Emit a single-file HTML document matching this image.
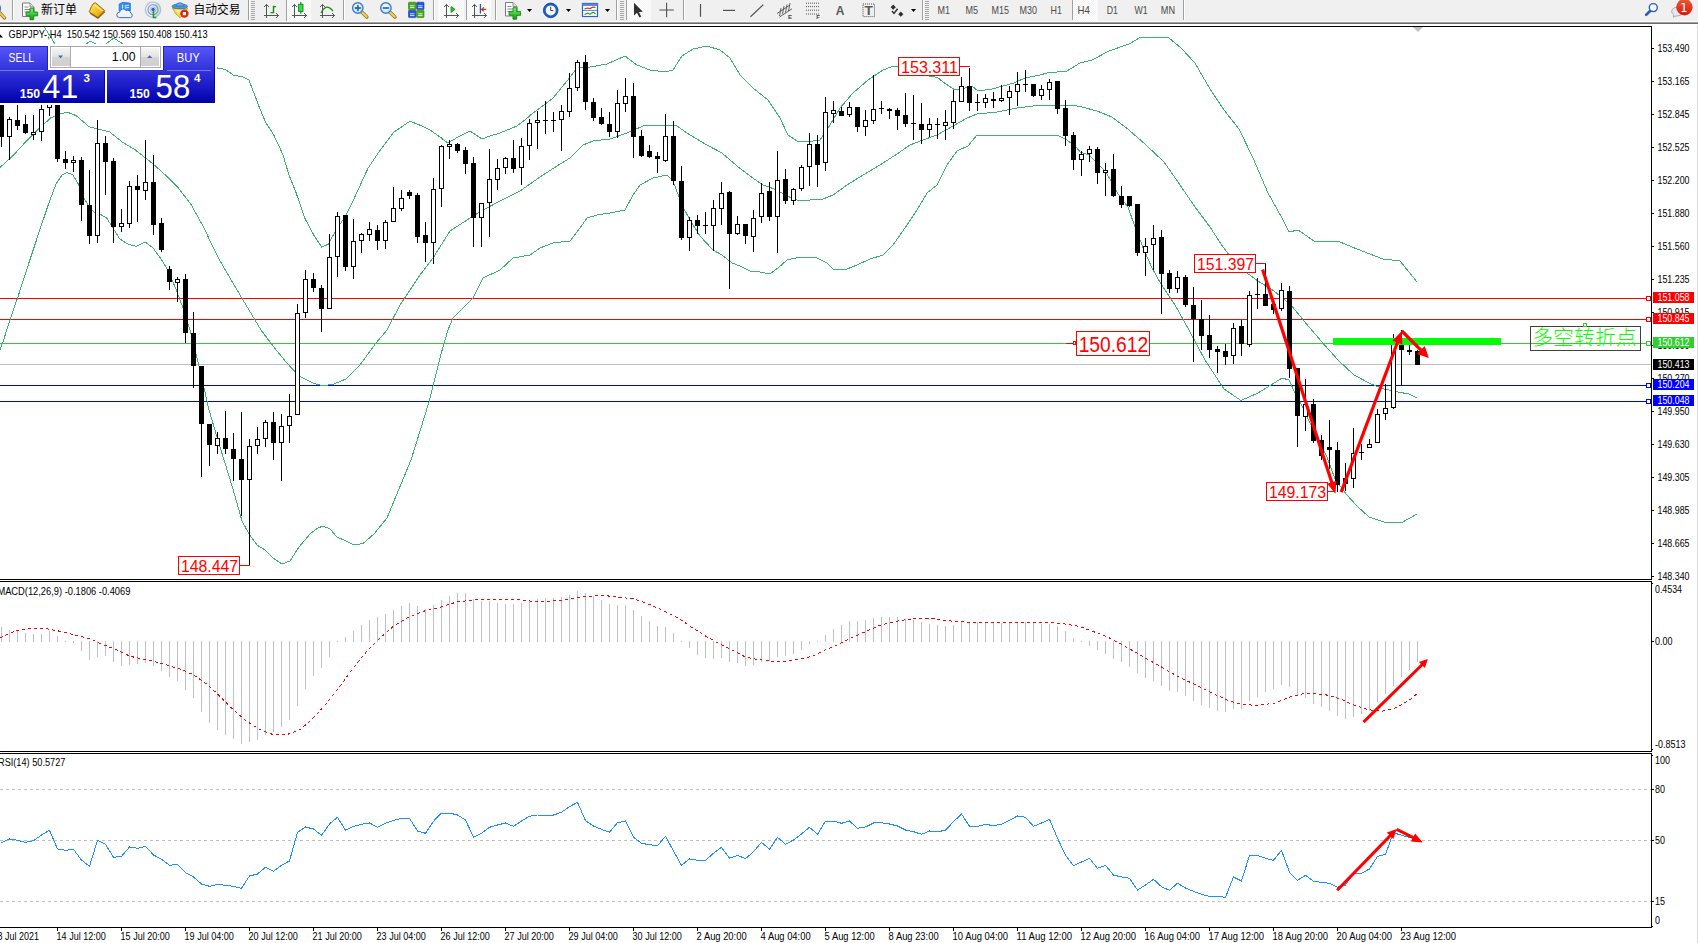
<!DOCTYPE html>
<html lang="zh"><head><meta charset="utf-8"><title>GBPJPY H4</title>
<style>
html,body{margin:0;padding:0;background:#fff}
body{width:1698px;height:943px;overflow:hidden;position:relative;font-family:"Liberation Sans","Noto Sans CJK SC",sans-serif;}
</style></head>
<body>
<svg width="1698" height="943" viewBox="0 0 1698 943" style="position:absolute;left:0;top:0" font-family='"Liberation Sans","Noto Sans CJK SC",sans-serif'>
<rect x="0" y="24" width="1698" height="919" fill="#fff"/>
<defs><clipPath id="cm"><rect x="0" y="27" width="1651" height="552"/></clipPath><clipPath id="c2"><rect x="0" y="582" width="1651" height="169"/></clipPath><clipPath id="c3"><rect x="0" y="754" width="1651" height="173"/></clipPath></defs>
<g clip-path="url(#cm)">
<g shape-rendering="crispEdges">
<rect x="0" y="298" width="1651" height="1" fill="#FF0000"/>
<rect x="0" y="319" width="1651" height="1" fill="#FF0000"/>
<rect x="0" y="343" width="1651" height="1" fill="#32CD32"/>
<rect x="0" y="364" width="1651" height="1" fill="#C0C0C0"/>
<rect x="0" y="385" width="1651" height="1" fill="#0000FF"/>
<rect x="0" y="401" width="1651" height="1" fill="#0000FF"/>
</g>
<polyline points="44.0,26.5 55.0,44.0 62.0,50.0 80.0,48.0 86.0,44.0 90.0,41.2 96.0,44.0 101.0,47.0 106.0,44.0 113.7,38.0 123.0,44.0 130.0,50.0 217.5,68.0 225.7,69.6 233.8,75.5 242.0,76.6 249.0,80.1 253.7,92.5 259.5,107.7 265.3,121.7 273.5,134.5 282.8,154.3 288.7,174.2 295.7,191.7 305.0,218.5 314.3,236.0 321.8,247.2 328.3,244.2 335.3,231.3 344.7,217.3 354.0,198.7 368.0,168.3 379.7,150.8 393.7,132.2 410.0,121.2 420.0,125.2 430.0,130.0 440.0,137.0 448.0,143.0 458.0,137.0 470.0,131.0 482.0,139.0 490.0,136.0 500.0,133.0 517.0,126.0 525.0,120.0 533.0,113.0 540.0,108.0 553.0,98.0 567.0,81.0 577.0,68.0 590.0,67.0 607.0,64.0 625.0,56.0 637.0,65.0 650.0,70.0 665.0,72.0 673.0,70.0 682.0,56.0 693.0,49.0 707.0,46.0 720.0,50.0 730.0,58.0 740.0,75.0 753.0,88.0 768.0,100.0 780.0,118.0 788.0,135.0 797.0,141.0 807.0,142.0 820.0,140.0 830.0,125.0 840.0,108.0 853.0,93.0 868.0,80.0 883.0,70.0 891.0,67.0 898.0,66.4 910.0,67.0 929.0,76.0 937.7,77.5 943.0,82.0 949.0,86.0 955.0,90.0 965.0,88.0 972.0,86.0 978.0,91.0 992.0,89.0 1003.0,86.0 1014.0,83.0 1025.0,78.0 1040.0,75.0 1047.0,73.0 1067.0,71.0 1080.0,63.0 1092.0,60.0 1109.0,51.0 1129.0,44.0 1141.0,37.0 1155.0,37.0 1169.0,38.0 1181.0,48.0 1195.0,63.0 1210.0,89.0 1224.0,110.0 1239.0,129.0 1253.0,158.0 1268.0,193.0 1282.0,218.0 1289.0,232.0 1298.0,230.0 1314.0,241.0 1340.0,242.0 1357.0,249.0 1383.0,259.0 1400.0,261.0 1409.0,272.0 1417.0,282.0" fill="none" stroke="#3CB371" stroke-width="1" stroke-linejoin="round" shape-rendering="crispEdges"/>
<polyline points="0.0,167.5 12.7,156.0 25.5,142.0 38.2,129.3 50.9,117.8 61.1,113.2 68.8,112.7 76.4,115.8 89.1,126.7 101.9,130.0 109.5,131.8 122.2,142.0 135.0,149.7 152.8,163.7 165.5,175.1 178.3,187.9 191.0,204.4 203.7,227.3 213.9,249.0 220.0,260.9 240.0,295.0 261.0,330.0 273.0,346.0 286.0,362.0 299.0,376.0 313.0,383.0 323.0,386.0 334.0,384.0 346.0,379.0 360.0,365.0 376.0,343.0 387.0,330.0 400.0,305.0 420.0,275.0 433.0,258.0 450.0,231.0 467.0,220.0 483.0,210.0 500.0,201.0 520.0,191.0 540.0,177.0 557.0,166.0 570.0,158.0 583.0,145.0 593.0,141.0 610.0,139.0 627.0,133.0 643.0,126.0 663.0,125.0 677.0,126.0 690.0,135.0 707.0,145.0 722.0,153.0 737.0,166.0 750.0,176.0 763.0,185.0 777.0,190.0 787.0,196.0 797.0,200.0 810.0,200.0 823.0,199.0 833.0,195.0 847.0,185.0 863.0,175.0 880.0,165.0 897.0,154.0 910.0,145.0 923.0,140.0 937.0,135.0 953.0,126.0 967.0,118.0 977.0,114.0 997.0,112.0 1017.0,108.0 1033.0,106.0 1053.0,105.0 1070.0,105.0 1080.0,106.5 1097.0,111.0 1112.0,117.0 1129.0,130.0 1146.0,145.0 1164.0,162.0 1178.0,182.0 1195.0,207.0 1210.0,227.0 1221.0,244.0 1228.4,254.0 1246.9,273.0 1258.0,281.0 1274.0,291.0 1291.0,305.0 1304.0,321.0 1321.0,341.0 1338.0,360.0 1354.0,375.0 1371.0,384.0 1384.0,389.0 1398.0,392.0 1409.0,394.0 1417.0,398.0" fill="none" stroke="#3CB371" stroke-width="1" stroke-linejoin="round" shape-rendering="crispEdges"/>
<polyline points="0.0,350.0 3.8,339.4 10.2,319.0 17.8,297.3 25.5,273.2 33.1,250.2 40.7,227.3 48.4,204.4 56.0,184.0 62.4,174.6 66.7,172.6 72.6,174.4 77.7,182.8 84.0,198.0 89.1,207.0 95.5,213.3 101.9,215.1 107.0,218.4 113.3,228.6 119.7,238.8 127.3,243.9 136.2,246.4 145.2,242.1 152.8,247.7 160.4,257.9 168.1,270.6 175.7,288.4 183.3,308.8 189.7,329.2 200.0,370.0 209.0,410.0 220.0,447.0 233.0,489.0 242.0,521.0 249.0,534.0 257.0,545.0 265.0,550.0 273.0,558.0 282.0,564.0 290.0,561.0 299.0,547.0 310.0,534.0 318.0,528.0 323.0,526.0 330.0,529.0 337.0,537.0 346.0,541.0 354.0,545.0 363.0,543.5 374.0,534.0 387.0,518.0 400.0,486.5 411.0,460.0 421.0,428.0 429.0,402.0 435.0,378.0 441.0,354.0 448.0,330.0 453.0,318.0 473.0,298.0 483.0,278.0 500.0,270.0 513.0,258.0 530.0,255.0 540.0,248.0 553.0,243.0 570.0,241.0 580.0,228.0 587.0,218.0 597.0,215.0 610.0,213.0 625.0,210.0 633.0,195.0 640.0,185.0 653.0,178.0 667.0,175.0 673.0,181.0 682.0,205.0 690.0,220.0 700.0,236.0 713.0,250.0 722.0,255.0 732.0,263.0 740.0,266.0 750.0,271.0 760.0,272.0 770.0,274.0 778.0,268.0 787.0,260.0 800.0,257.0 817.0,258.0 827.0,263.0 833.0,269.0 847.0,269.0 857.0,265.0 870.0,259.0 883.0,255.0 893.0,245.0 907.0,225.0 917.0,210.0 927.0,193.0 937.0,185.0 947.0,165.0 957.0,151.0 968.0,146.0 977.0,135.0 1007.0,136.0 1033.0,135.0 1057.0,135.0 1067.0,140.0 1077.0,148.0 1080.0,152.0 1089.0,155.0 1106.0,172.0 1118.0,194.0 1128.0,207.0 1135.0,227.0 1144.0,250.0 1152.0,268.0 1161.0,284.0 1175.0,305.0 1189.0,330.0 1205.0,360.0 1224.0,389.0 1241.0,400.5 1258.0,393.0 1271.0,385.0 1282.0,378.0 1289.0,380.0 1295.0,393.0 1304.0,410.0 1315.0,434.0 1327.0,457.0 1335.0,479.0 1346.0,494.0 1357.0,506.0 1369.0,517.0 1384.0,522.0 1401.0,523.0 1417.0,514.0" fill="none" stroke="#3CB371" stroke-width="1" stroke-linejoin="round" shape-rendering="crispEdges"/>
<g shape-rendering="crispEdges">
<rect x="1" y="100" width="1" height="47" fill="#000"/>
<rect x="-1" y="100" width="5" height="37" fill="#000"/>
<rect x="9" y="117" width="1" height="43" fill="#000"/>
<rect x="7" y="119" width="5" height="18" fill="#000"/>
<rect x="8" y="120" width="3" height="16" fill="#fff"/>
<rect x="17" y="100" width="1" height="30" fill="#000"/>
<rect x="15" y="120" width="5" height="6" fill="#000"/>
<rect x="25" y="115" width="1" height="19" fill="#000"/>
<rect x="23" y="124" width="5" height="9" fill="#000"/>
<rect x="33" y="115" width="1" height="25" fill="#000"/>
<rect x="31" y="132" width="5" height="3" fill="#000"/>
<rect x="32" y="133" width="3" height="1" fill="#fff"/>
<rect x="41" y="100" width="1" height="41" fill="#000"/>
<rect x="39" y="109" width="5" height="23" fill="#000"/>
<rect x="40" y="110" width="3" height="21" fill="#fff"/>
<rect x="49" y="100" width="1" height="16" fill="#000"/>
<rect x="47" y="100" width="5" height="8" fill="#000"/>
<rect x="48" y="101" width="3" height="6" fill="#fff"/>
<rect x="57" y="100" width="1" height="62" fill="#000"/>
<rect x="55" y="100" width="5" height="59" fill="#000"/>
<rect x="65" y="151" width="1" height="18" fill="#000"/>
<rect x="63" y="159" width="5" height="4" fill="#000"/>
<rect x="73" y="156" width="1" height="16" fill="#000"/>
<rect x="71" y="160" width="5" height="3" fill="#000"/>
<rect x="72" y="161" width="3" height="1" fill="#fff"/>
<rect x="81" y="157" width="1" height="64" fill="#000"/>
<rect x="79" y="160" width="5" height="45" fill="#000"/>
<rect x="89" y="170" width="1" height="74" fill="#000"/>
<rect x="87" y="205" width="5" height="31" fill="#000"/>
<rect x="97" y="120" width="1" height="123" fill="#000"/>
<rect x="95" y="143" width="5" height="93" fill="#000"/>
<rect x="96" y="144" width="3" height="91" fill="#fff"/>
<rect x="105" y="136" width="1" height="59" fill="#000"/>
<rect x="103" y="143" width="5" height="19" fill="#000"/>
<rect x="113" y="158" width="1" height="85" fill="#000"/>
<rect x="111" y="161" width="5" height="66" fill="#000"/>
<rect x="121" y="209" width="1" height="23" fill="#000"/>
<rect x="119" y="223" width="5" height="4" fill="#000"/>
<rect x="120" y="224" width="3" height="2" fill="#fff"/>
<rect x="129" y="181" width="1" height="47" fill="#000"/>
<rect x="127" y="186" width="5" height="38" fill="#000"/>
<rect x="128" y="187" width="3" height="36" fill="#fff"/>
<rect x="137" y="175" width="1" height="47" fill="#000"/>
<rect x="135" y="186" width="5" height="4" fill="#000"/>
<rect x="145" y="140" width="1" height="60" fill="#000"/>
<rect x="143" y="182" width="5" height="9" fill="#000"/>
<rect x="144" y="183" width="3" height="7" fill="#fff"/>
<rect x="153" y="155" width="1" height="80" fill="#000"/>
<rect x="151" y="182" width="5" height="43" fill="#000"/>
<rect x="161" y="218" width="1" height="34" fill="#000"/>
<rect x="159" y="223" width="5" height="27" fill="#000"/>
<rect x="169" y="266" width="1" height="24" fill="#000"/>
<rect x="167" y="269" width="5" height="13" fill="#000"/>
<rect x="177" y="277" width="1" height="25" fill="#000"/>
<rect x="175" y="279" width="5" height="4" fill="#000"/>
<rect x="176" y="280" width="3" height="2" fill="#fff"/>
<rect x="185" y="274" width="1" height="69" fill="#000"/>
<rect x="183" y="279" width="5" height="54" fill="#000"/>
<rect x="193" y="312" width="1" height="76" fill="#000"/>
<rect x="191" y="333" width="5" height="33" fill="#000"/>
<rect x="201" y="366" width="1" height="111" fill="#000"/>
<rect x="199" y="366" width="5" height="58" fill="#000"/>
<rect x="209" y="424" width="1" height="42" fill="#000"/>
<rect x="207" y="424" width="5" height="21" fill="#000"/>
<rect x="217" y="432" width="1" height="22" fill="#000"/>
<rect x="215" y="438" width="5" height="8" fill="#000"/>
<rect x="216" y="439" width="3" height="6" fill="#fff"/>
<rect x="225" y="411" width="1" height="43" fill="#000"/>
<rect x="223" y="438" width="5" height="11" fill="#000"/>
<rect x="233" y="433" width="1" height="48" fill="#000"/>
<rect x="231" y="449" width="5" height="10" fill="#000"/>
<rect x="241" y="412" width="1" height="104" fill="#000"/>
<rect x="239" y="459" width="5" height="21" fill="#000"/>
<rect x="249" y="439" width="1" height="127" fill="#000"/>
<rect x="247" y="446" width="5" height="34" fill="#000"/>
<rect x="248" y="447" width="3" height="32" fill="#fff"/>
<rect x="257" y="427" width="1" height="27" fill="#000"/>
<rect x="255" y="439" width="5" height="7" fill="#000"/>
<rect x="256" y="440" width="3" height="5" fill="#fff"/>
<rect x="265" y="420" width="1" height="27" fill="#000"/>
<rect x="263" y="422" width="5" height="17" fill="#000"/>
<rect x="264" y="423" width="3" height="15" fill="#fff"/>
<rect x="273" y="412" width="1" height="48" fill="#000"/>
<rect x="271" y="422" width="5" height="21" fill="#000"/>
<rect x="281" y="414" width="1" height="67" fill="#000"/>
<rect x="279" y="426" width="5" height="17" fill="#000"/>
<rect x="280" y="427" width="3" height="15" fill="#fff"/>
<rect x="289" y="394" width="1" height="49" fill="#000"/>
<rect x="287" y="416" width="5" height="10" fill="#000"/>
<rect x="288" y="417" width="3" height="8" fill="#fff"/>
<rect x="297" y="304" width="1" height="111" fill="#000"/>
<rect x="295" y="313" width="5" height="102" fill="#000"/>
<rect x="296" y="314" width="3" height="100" fill="#fff"/>
<rect x="305" y="270" width="1" height="48" fill="#000"/>
<rect x="303" y="279" width="5" height="34" fill="#000"/>
<rect x="304" y="280" width="3" height="32" fill="#fff"/>
<rect x="313" y="273" width="1" height="19" fill="#000"/>
<rect x="311" y="279" width="5" height="9" fill="#000"/>
<rect x="321" y="285" width="1" height="47" fill="#000"/>
<rect x="319" y="288" width="5" height="21" fill="#000"/>
<rect x="329" y="234" width="1" height="75" fill="#000"/>
<rect x="327" y="257" width="5" height="52" fill="#000"/>
<rect x="328" y="258" width="3" height="50" fill="#fff"/>
<rect x="337" y="212" width="1" height="65" fill="#000"/>
<rect x="335" y="216" width="5" height="41" fill="#000"/>
<rect x="336" y="217" width="3" height="39" fill="#fff"/>
<rect x="345" y="215" width="1" height="56" fill="#000"/>
<rect x="343" y="215" width="5" height="52" fill="#000"/>
<rect x="353" y="219" width="1" height="60" fill="#000"/>
<rect x="351" y="241" width="5" height="26" fill="#000"/>
<rect x="352" y="242" width="3" height="24" fill="#fff"/>
<rect x="361" y="233" width="1" height="20" fill="#000"/>
<rect x="359" y="234" width="5" height="7" fill="#000"/>
<rect x="360" y="235" width="3" height="5" fill="#fff"/>
<rect x="369" y="222" width="1" height="19" fill="#000"/>
<rect x="367" y="229" width="5" height="6" fill="#000"/>
<rect x="368" y="230" width="3" height="4" fill="#fff"/>
<rect x="377" y="225" width="1" height="25" fill="#000"/>
<rect x="375" y="230" width="5" height="11" fill="#000"/>
<rect x="385" y="220" width="1" height="29" fill="#000"/>
<rect x="383" y="222" width="5" height="19" fill="#000"/>
<rect x="384" y="223" width="3" height="17" fill="#fff"/>
<rect x="393" y="187" width="1" height="35" fill="#000"/>
<rect x="391" y="208" width="5" height="14" fill="#000"/>
<rect x="392" y="209" width="3" height="12" fill="#fff"/>
<rect x="401" y="190" width="1" height="21" fill="#000"/>
<rect x="399" y="198" width="5" height="11" fill="#000"/>
<rect x="400" y="199" width="3" height="9" fill="#fff"/>
<rect x="409" y="190" width="1" height="9" fill="#000"/>
<rect x="407" y="192" width="5" height="4" fill="#000"/>
<rect x="417" y="193" width="1" height="50" fill="#000"/>
<rect x="415" y="195" width="5" height="42" fill="#000"/>
<rect x="425" y="222" width="1" height="40" fill="#000"/>
<rect x="423" y="235" width="5" height="8" fill="#000"/>
<rect x="433" y="178" width="1" height="86" fill="#000"/>
<rect x="431" y="189" width="5" height="54" fill="#000"/>
<rect x="432" y="190" width="3" height="52" fill="#fff"/>
<rect x="441" y="145" width="1" height="62" fill="#000"/>
<rect x="439" y="146" width="5" height="43" fill="#000"/>
<rect x="440" y="147" width="3" height="41" fill="#fff"/>
<rect x="449" y="140" width="1" height="19" fill="#000"/>
<rect x="447" y="144" width="5" height="3" fill="#000"/>
<rect x="448" y="145" width="3" height="1" fill="#fff"/>
<rect x="457" y="143" width="1" height="10" fill="#000"/>
<rect x="455" y="144" width="5" height="7" fill="#000"/>
<rect x="465" y="147" width="1" height="27" fill="#000"/>
<rect x="463" y="150" width="5" height="14" fill="#000"/>
<rect x="473" y="157" width="1" height="90" fill="#000"/>
<rect x="471" y="163" width="5" height="55" fill="#000"/>
<rect x="481" y="203" width="1" height="44" fill="#000"/>
<rect x="479" y="203" width="5" height="15" fill="#000"/>
<rect x="480" y="204" width="3" height="13" fill="#fff"/>
<rect x="489" y="149" width="1" height="88" fill="#000"/>
<rect x="487" y="179" width="5" height="24" fill="#000"/>
<rect x="488" y="180" width="3" height="22" fill="#fff"/>
<rect x="497" y="159" width="1" height="31" fill="#000"/>
<rect x="495" y="168" width="5" height="12" fill="#000"/>
<rect x="496" y="169" width="3" height="10" fill="#fff"/>
<rect x="505" y="157" width="1" height="17" fill="#000"/>
<rect x="503" y="158" width="5" height="10" fill="#000"/>
<rect x="504" y="159" width="3" height="8" fill="#fff"/>
<rect x="513" y="140" width="1" height="33" fill="#000"/>
<rect x="511" y="158" width="5" height="11" fill="#000"/>
<rect x="521" y="138" width="1" height="47" fill="#000"/>
<rect x="519" y="146" width="5" height="22" fill="#000"/>
<rect x="520" y="147" width="3" height="20" fill="#fff"/>
<rect x="529" y="119" width="1" height="41" fill="#000"/>
<rect x="527" y="123" width="5" height="23" fill="#000"/>
<rect x="528" y="124" width="3" height="21" fill="#fff"/>
<rect x="537" y="111" width="1" height="38" fill="#000"/>
<rect x="535" y="120" width="5" height="3" fill="#000"/>
<rect x="536" y="121" width="3" height="1" fill="#fff"/>
<rect x="545" y="101" width="1" height="33" fill="#000"/>
<rect x="543" y="120" width="5" height="1" fill="#000"/>
<rect x="553" y="112" width="1" height="20" fill="#000"/>
<rect x="551" y="120" width="5" height="1" fill="#000"/>
<rect x="561" y="105" width="1" height="46" fill="#000"/>
<rect x="559" y="111" width="5" height="9" fill="#000"/>
<rect x="560" y="112" width="3" height="7" fill="#fff"/>
<rect x="569" y="73" width="1" height="44" fill="#000"/>
<rect x="567" y="88" width="5" height="24" fill="#000"/>
<rect x="568" y="89" width="3" height="22" fill="#fff"/>
<rect x="577" y="60" width="1" height="31" fill="#000"/>
<rect x="575" y="62" width="5" height="26" fill="#000"/>
<rect x="576" y="63" width="3" height="24" fill="#fff"/>
<rect x="585" y="55" width="1" height="55" fill="#000"/>
<rect x="583" y="62" width="5" height="40" fill="#000"/>
<rect x="593" y="98" width="1" height="23" fill="#000"/>
<rect x="591" y="102" width="5" height="16" fill="#000"/>
<rect x="601" y="108" width="1" height="17" fill="#000"/>
<rect x="599" y="117" width="5" height="7" fill="#000"/>
<rect x="609" y="112" width="1" height="25" fill="#000"/>
<rect x="607" y="124" width="5" height="8" fill="#000"/>
<rect x="617" y="90" width="1" height="48" fill="#000"/>
<rect x="615" y="103" width="5" height="29" fill="#000"/>
<rect x="616" y="104" width="3" height="27" fill="#fff"/>
<rect x="625" y="78" width="1" height="34" fill="#000"/>
<rect x="623" y="96" width="5" height="8" fill="#000"/>
<rect x="624" y="97" width="3" height="6" fill="#fff"/>
<rect x="633" y="83" width="1" height="75" fill="#000"/>
<rect x="631" y="96" width="5" height="41" fill="#000"/>
<rect x="641" y="130" width="1" height="27" fill="#000"/>
<rect x="639" y="136" width="5" height="20" fill="#000"/>
<rect x="649" y="145" width="1" height="13" fill="#000"/>
<rect x="647" y="151" width="5" height="6" fill="#000"/>
<rect x="657" y="152" width="1" height="21" fill="#000"/>
<rect x="655" y="156" width="5" height="3" fill="#000"/>
<rect x="665" y="114" width="1" height="48" fill="#000"/>
<rect x="663" y="136" width="5" height="25" fill="#000"/>
<rect x="664" y="137" width="3" height="23" fill="#fff"/>
<rect x="673" y="121" width="1" height="64" fill="#000"/>
<rect x="671" y="136" width="5" height="45" fill="#000"/>
<rect x="681" y="166" width="1" height="74" fill="#000"/>
<rect x="679" y="181" width="5" height="57" fill="#000"/>
<rect x="689" y="217" width="1" height="34" fill="#000"/>
<rect x="687" y="220" width="5" height="18" fill="#000"/>
<rect x="688" y="221" width="3" height="16" fill="#fff"/>
<rect x="697" y="215" width="1" height="19" fill="#000"/>
<rect x="695" y="220" width="5" height="6" fill="#000"/>
<rect x="705" y="212" width="1" height="22" fill="#000"/>
<rect x="703" y="225" width="5" height="1" fill="#000"/>
<rect x="713" y="200" width="1" height="51" fill="#000"/>
<rect x="711" y="208" width="5" height="18" fill="#000"/>
<rect x="712" y="209" width="3" height="16" fill="#fff"/>
<rect x="721" y="182" width="1" height="43" fill="#000"/>
<rect x="719" y="193" width="5" height="16" fill="#000"/>
<rect x="720" y="194" width="3" height="14" fill="#fff"/>
<rect x="729" y="191" width="1" height="98" fill="#000"/>
<rect x="727" y="192" width="5" height="42" fill="#000"/>
<rect x="737" y="216" width="1" height="19" fill="#000"/>
<rect x="735" y="224" width="5" height="10" fill="#000"/>
<rect x="736" y="225" width="3" height="8" fill="#fff"/>
<rect x="745" y="224" width="1" height="20" fill="#000"/>
<rect x="743" y="224" width="5" height="12" fill="#000"/>
<rect x="753" y="210" width="1" height="42" fill="#000"/>
<rect x="751" y="218" width="5" height="19" fill="#000"/>
<rect x="752" y="219" width="3" height="17" fill="#fff"/>
<rect x="761" y="183" width="1" height="40" fill="#000"/>
<rect x="759" y="193" width="5" height="24" fill="#000"/>
<rect x="760" y="194" width="3" height="22" fill="#fff"/>
<rect x="769" y="182" width="1" height="39" fill="#000"/>
<rect x="767" y="191" width="5" height="26" fill="#000"/>
<rect x="777" y="151" width="1" height="102" fill="#000"/>
<rect x="775" y="180" width="5" height="37" fill="#000"/>
<rect x="776" y="181" width="3" height="35" fill="#fff"/>
<rect x="785" y="169" width="1" height="35" fill="#000"/>
<rect x="783" y="179" width="5" height="22" fill="#000"/>
<rect x="793" y="188" width="1" height="17" fill="#000"/>
<rect x="791" y="189" width="5" height="12" fill="#000"/>
<rect x="792" y="190" width="3" height="10" fill="#fff"/>
<rect x="801" y="165" width="1" height="26" fill="#000"/>
<rect x="799" y="167" width="5" height="22" fill="#000"/>
<rect x="800" y="168" width="3" height="20" fill="#fff"/>
<rect x="809" y="133" width="1" height="53" fill="#000"/>
<rect x="807" y="144" width="5" height="23" fill="#000"/>
<rect x="808" y="145" width="3" height="21" fill="#fff"/>
<rect x="817" y="135" width="1" height="52" fill="#000"/>
<rect x="815" y="144" width="5" height="21" fill="#000"/>
<rect x="825" y="97" width="1" height="74" fill="#000"/>
<rect x="823" y="112" width="5" height="51" fill="#000"/>
<rect x="824" y="113" width="3" height="49" fill="#fff"/>
<rect x="833" y="101" width="1" height="22" fill="#000"/>
<rect x="831" y="110" width="5" height="4" fill="#000"/>
<rect x="832" y="111" width="3" height="2" fill="#fff"/>
<rect x="841" y="107" width="1" height="9" fill="#000"/>
<rect x="839" y="111" width="5" height="5" fill="#000"/>
<rect x="849" y="102" width="1" height="15" fill="#000"/>
<rect x="847" y="107" width="5" height="8" fill="#000"/>
<rect x="848" y="108" width="3" height="6" fill="#fff"/>
<rect x="857" y="107" width="1" height="25" fill="#000"/>
<rect x="855" y="107" width="5" height="20" fill="#000"/>
<rect x="865" y="110" width="1" height="26" fill="#000"/>
<rect x="863" y="120" width="5" height="7" fill="#000"/>
<rect x="864" y="121" width="3" height="5" fill="#fff"/>
<rect x="873" y="75" width="1" height="49" fill="#000"/>
<rect x="871" y="109" width="5" height="12" fill="#000"/>
<rect x="872" y="110" width="3" height="10" fill="#fff"/>
<rect x="881" y="101" width="1" height="13" fill="#000"/>
<rect x="879" y="108" width="5" height="1" fill="#000"/>
<rect x="889" y="108" width="1" height="11" fill="#000"/>
<rect x="887" y="109" width="5" height="2" fill="#000"/>
<rect x="897" y="108" width="1" height="22" fill="#000"/>
<rect x="895" y="110" width="5" height="6" fill="#000"/>
<rect x="905" y="93" width="1" height="34" fill="#000"/>
<rect x="903" y="115" width="5" height="9" fill="#000"/>
<rect x="913" y="95" width="1" height="45" fill="#000"/>
<rect x="911" y="123" width="5" height="1" fill="#000"/>
<rect x="921" y="103" width="1" height="41" fill="#000"/>
<rect x="919" y="124" width="5" height="6" fill="#000"/>
<rect x="929" y="118" width="1" height="19" fill="#000"/>
<rect x="927" y="124" width="5" height="6" fill="#000"/>
<rect x="928" y="125" width="3" height="4" fill="#fff"/>
<rect x="937" y="118" width="1" height="21" fill="#000"/>
<rect x="935" y="124" width="5" height="1" fill="#000"/>
<rect x="945" y="110" width="1" height="30" fill="#000"/>
<rect x="943" y="122" width="5" height="4" fill="#000"/>
<rect x="944" y="123" width="3" height="2" fill="#fff"/>
<rect x="953" y="90" width="1" height="39" fill="#000"/>
<rect x="951" y="101" width="5" height="22" fill="#000"/>
<rect x="952" y="102" width="3" height="20" fill="#fff"/>
<rect x="961" y="77" width="1" height="25" fill="#000"/>
<rect x="959" y="86" width="5" height="16" fill="#000"/>
<rect x="960" y="87" width="3" height="14" fill="#fff"/>
<rect x="969" y="68" width="1" height="43" fill="#000"/>
<rect x="967" y="86" width="5" height="17" fill="#000"/>
<rect x="977" y="94" width="1" height="17" fill="#000"/>
<rect x="975" y="102" width="5" height="1" fill="#000"/>
<rect x="985" y="94" width="1" height="14" fill="#000"/>
<rect x="983" y="98" width="5" height="5" fill="#000"/>
<rect x="984" y="99" width="3" height="3" fill="#fff"/>
<rect x="993" y="92" width="1" height="16" fill="#000"/>
<rect x="991" y="99" width="5" height="2" fill="#000"/>
<rect x="1001" y="85" width="1" height="17" fill="#000"/>
<rect x="999" y="98" width="5" height="3" fill="#000"/>
<rect x="1000" y="99" width="3" height="1" fill="#fff"/>
<rect x="1009" y="86" width="1" height="29" fill="#000"/>
<rect x="1007" y="91" width="5" height="7" fill="#000"/>
<rect x="1008" y="92" width="3" height="5" fill="#fff"/>
<rect x="1017" y="72" width="1" height="34" fill="#000"/>
<rect x="1015" y="84" width="5" height="8" fill="#000"/>
<rect x="1016" y="85" width="3" height="6" fill="#fff"/>
<rect x="1025" y="70" width="1" height="22" fill="#000"/>
<rect x="1023" y="84" width="5" height="1" fill="#000"/>
<rect x="1033" y="84" width="1" height="13" fill="#000"/>
<rect x="1031" y="84" width="5" height="12" fill="#000"/>
<rect x="1041" y="85" width="1" height="15" fill="#000"/>
<rect x="1039" y="89" width="5" height="7" fill="#000"/>
<rect x="1040" y="90" width="3" height="5" fill="#fff"/>
<rect x="1049" y="79" width="1" height="21" fill="#000"/>
<rect x="1047" y="82" width="5" height="8" fill="#000"/>
<rect x="1048" y="83" width="3" height="6" fill="#fff"/>
<rect x="1057" y="81" width="1" height="33" fill="#000"/>
<rect x="1055" y="81" width="5" height="28" fill="#000"/>
<rect x="1065" y="100" width="1" height="46" fill="#000"/>
<rect x="1063" y="108" width="5" height="28" fill="#000"/>
<rect x="1073" y="132" width="1" height="38" fill="#000"/>
<rect x="1071" y="135" width="5" height="25" fill="#000"/>
<rect x="1081" y="151" width="1" height="25" fill="#000"/>
<rect x="1079" y="154" width="5" height="6" fill="#000"/>
<rect x="1080" y="155" width="3" height="4" fill="#fff"/>
<rect x="1089" y="146" width="1" height="16" fill="#000"/>
<rect x="1087" y="149" width="5" height="5" fill="#000"/>
<rect x="1088" y="150" width="3" height="3" fill="#fff"/>
<rect x="1097" y="147" width="1" height="37" fill="#000"/>
<rect x="1095" y="149" width="5" height="24" fill="#000"/>
<rect x="1105" y="163" width="1" height="33" fill="#000"/>
<rect x="1103" y="170" width="5" height="3" fill="#000"/>
<rect x="1104" y="171" width="3" height="1" fill="#fff"/>
<rect x="1113" y="154" width="1" height="43" fill="#000"/>
<rect x="1111" y="169" width="5" height="27" fill="#000"/>
<rect x="1121" y="186" width="1" height="22" fill="#000"/>
<rect x="1119" y="196" width="5" height="9" fill="#000"/>
<rect x="1129" y="196" width="1" height="11" fill="#000"/>
<rect x="1127" y="196" width="5" height="10" fill="#000"/>
<rect x="1137" y="204" width="1" height="52" fill="#000"/>
<rect x="1135" y="204" width="5" height="49" fill="#000"/>
<rect x="1145" y="238" width="1" height="38" fill="#000"/>
<rect x="1143" y="246" width="5" height="7" fill="#000"/>
<rect x="1144" y="247" width="3" height="5" fill="#fff"/>
<rect x="1153" y="225" width="1" height="45" fill="#000"/>
<rect x="1151" y="238" width="5" height="7" fill="#000"/>
<rect x="1152" y="239" width="3" height="5" fill="#fff"/>
<rect x="1161" y="230" width="1" height="84" fill="#000"/>
<rect x="1159" y="237" width="5" height="37" fill="#000"/>
<rect x="1169" y="270" width="1" height="23" fill="#000"/>
<rect x="1167" y="273" width="5" height="16" fill="#000"/>
<rect x="1177" y="271" width="1" height="22" fill="#000"/>
<rect x="1175" y="277" width="5" height="12" fill="#000"/>
<rect x="1176" y="278" width="3" height="10" fill="#fff"/>
<rect x="1185" y="275" width="1" height="32" fill="#000"/>
<rect x="1183" y="277" width="5" height="28" fill="#000"/>
<rect x="1193" y="287" width="1" height="75" fill="#000"/>
<rect x="1191" y="305" width="5" height="14" fill="#000"/>
<rect x="1201" y="300" width="1" height="50" fill="#000"/>
<rect x="1199" y="319" width="5" height="17" fill="#000"/>
<rect x="1209" y="315" width="1" height="43" fill="#000"/>
<rect x="1207" y="335" width="5" height="15" fill="#000"/>
<rect x="1217" y="346" width="1" height="27" fill="#000"/>
<rect x="1215" y="349" width="5" height="3" fill="#000"/>
<rect x="1225" y="344" width="1" height="21" fill="#000"/>
<rect x="1223" y="351" width="5" height="6" fill="#000"/>
<rect x="1233" y="323" width="1" height="41" fill="#000"/>
<rect x="1231" y="328" width="5" height="28" fill="#000"/>
<rect x="1232" y="329" width="3" height="26" fill="#fff"/>
<rect x="1241" y="320" width="1" height="36" fill="#000"/>
<rect x="1239" y="326" width="5" height="18" fill="#000"/>
<rect x="1249" y="291" width="1" height="56" fill="#000"/>
<rect x="1247" y="295" width="5" height="50" fill="#000"/>
<rect x="1248" y="296" width="3" height="48" fill="#fff"/>
<rect x="1257" y="278" width="1" height="31" fill="#000"/>
<rect x="1255" y="294" width="5" height="1" fill="#000"/>
<rect x="1265" y="264" width="1" height="42" fill="#000"/>
<rect x="1263" y="294" width="5" height="12" fill="#000"/>
<rect x="1273" y="300" width="1" height="14" fill="#000"/>
<rect x="1271" y="304" width="5" height="6" fill="#000"/>
<rect x="1281" y="283" width="1" height="28" fill="#000"/>
<rect x="1279" y="290" width="5" height="19" fill="#000"/>
<rect x="1280" y="291" width="3" height="17" fill="#fff"/>
<rect x="1289" y="286" width="1" height="92" fill="#000"/>
<rect x="1287" y="291" width="5" height="78" fill="#000"/>
<rect x="1297" y="368" width="1" height="79" fill="#000"/>
<rect x="1295" y="368" width="5" height="48" fill="#000"/>
<rect x="1305" y="379" width="1" height="52" fill="#000"/>
<rect x="1303" y="404" width="5" height="13" fill="#000"/>
<rect x="1304" y="405" width="3" height="11" fill="#fff"/>
<rect x="1313" y="399" width="1" height="44" fill="#000"/>
<rect x="1311" y="404" width="5" height="37" fill="#000"/>
<rect x="1321" y="435" width="1" height="25" fill="#000"/>
<rect x="1319" y="440" width="5" height="16" fill="#000"/>
<rect x="1329" y="420" width="1" height="49" fill="#000"/>
<rect x="1327" y="447" width="5" height="3" fill="#000"/>
<rect x="1337" y="442" width="1" height="50" fill="#000"/>
<rect x="1335" y="450" width="5" height="35" fill="#000"/>
<rect x="1345" y="463" width="1" height="28" fill="#000"/>
<rect x="1343" y="478" width="5" height="6" fill="#000"/>
<rect x="1353" y="428" width="1" height="60" fill="#000"/>
<rect x="1351" y="453" width="5" height="26" fill="#000"/>
<rect x="1352" y="454" width="3" height="24" fill="#fff"/>
<rect x="1361" y="444" width="1" height="16" fill="#000"/>
<rect x="1359" y="452" width="5" height="1" fill="#000"/>
<rect x="1369" y="439" width="1" height="9" fill="#000"/>
<rect x="1367" y="444" width="5" height="4" fill="#000"/>
<rect x="1368" y="445" width="3" height="2" fill="#fff"/>
<rect x="1377" y="409" width="1" height="34" fill="#000"/>
<rect x="1375" y="414" width="5" height="29" fill="#000"/>
<rect x="1376" y="415" width="3" height="27" fill="#fff"/>
<rect x="1385" y="384" width="1" height="36" fill="#000"/>
<rect x="1383" y="408" width="5" height="6" fill="#000"/>
<rect x="1384" y="409" width="3" height="4" fill="#fff"/>
<rect x="1393" y="334" width="1" height="75" fill="#000"/>
<rect x="1391" y="342" width="5" height="66" fill="#000"/>
<rect x="1392" y="343" width="3" height="64" fill="#fff"/>
<rect x="1401" y="330" width="1" height="56" fill="#000"/>
<rect x="1399" y="345" width="5" height="5" fill="#000"/>
<rect x="1409" y="337" width="1" height="18" fill="#000"/>
<rect x="1407" y="350" width="5" height="2" fill="#000"/>
<rect x="1417" y="350" width="1" height="15" fill="#000"/>
<rect x="1415" y="351" width="5" height="14" fill="#000"/>
</g>
<g shape-rendering="crispEdges">
<rect x="1333" y="338" width="168" height="7" fill="#00FF00"/>
</g>
<g shape-rendering="crispEdges" fill="#fff">
<rect x="1646.5" y="296.5" width="4" height="4" stroke="#FF0000" stroke-width="1"/>
<rect x="1646.5" y="317.5" width="4" height="4" stroke="#FF0000" stroke-width="1"/>
<rect x="1646.5" y="341.5" width="4" height="4" stroke="#32CD32" stroke-width="1"/>
<rect x="1646.5" y="383.5" width="4" height="4" stroke="#0000FF" stroke-width="1"/>
<rect x="1646.5" y="399.5" width="4" height="4" stroke="#0000FF" stroke-width="1"/>
</g>
<rect x="178.5" y="556.5" width="61" height="18" fill="#fff" stroke="#FF0000" stroke-width="1" shape-rendering="crispEdges"/>
<text x="181" y="572.1" font-size="16.6" fill="#FF0000" textLength="57" lengthAdjust="spacingAndGlyphs" >148.447</text>
<g shape-rendering="crispEdges">
<rect x="240" y="565" width="10" height="1" fill="#FF0000"/>
</g>
<rect x="898.5" y="57.5" width="61" height="18" fill="#fff" stroke="#FF0000" stroke-width="1" shape-rendering="crispEdges"/>
<text x="901" y="73.2" font-size="16.6" fill="#FF0000" textLength="57" lengthAdjust="spacingAndGlyphs" >153.311</text>
<g shape-rendering="crispEdges">
<rect x="960" y="66" width="10" height="1" fill="#FF0000"/>
</g>
<rect x="1194.5" y="254.5" width="61" height="18" fill="#fff" stroke="#FF0000" stroke-width="1" shape-rendering="crispEdges"/>
<text x="1197" y="270.1" font-size="16.6" fill="#FF0000" textLength="57" lengthAdjust="spacingAndGlyphs" >151.397</text>
<g shape-rendering="crispEdges">
<rect x="1256" y="263" width="10" height="1" fill="#FF0000"/>
</g>
<rect x="1266.5" y="482.5" width="61" height="18" fill="#fff" stroke="#FF0000" stroke-width="1" shape-rendering="crispEdges"/>
<text x="1269" y="498.2" font-size="16.6" fill="#FF0000" textLength="57" lengthAdjust="spacingAndGlyphs" >149.173</text>
<g shape-rendering="crispEdges">
<rect x="1328" y="491" width="6" height="1" fill="#FF0000"/>
</g>
<rect x="1076.5" y="331.5" width="73" height="24" fill="#fff" stroke="#FF0000" stroke-width="1" shape-rendering="crispEdges"/>
<text x="1078.7" y="352.1" font-size="22.7" fill="#FF0000" textLength="69.4" lengthAdjust="spacingAndGlyphs" >150.612</text>
<g shape-rendering="crispEdges">
<rect x="1066" y="343" width="7" height="1" fill="#FF0000"/>
</g>
<rect x="1073.5" y="341.5" width="2" height="3" fill="#fff" stroke="#FF0000" stroke-width="1" shape-rendering="crispEdges"/>
<line x1="1262.6" y1="269.5" x2="1332.4" y2="484.2" stroke="#FF0000" stroke-width="3.2"/>
<polygon points="1335.5,493.7 1327.2,483.8 1336.4,480.8" fill="#FF0000"/>
<line x1="1341.2" y1="492.1" x2="1398.1" y2="340.8" stroke="#FF0000" stroke-width="3.2"/>
<polygon points="1401.8,331.0 1402.4,344.6 1392.4,340.8" fill="#FF0000"/>
<line x1="1401.8" y1="331.0" x2="1422.2" y2="351.4" stroke="#FF0000" stroke-width="3.2"/>
<polygon points="1428.9,358.1 1416.9,353.9 1424.7,346.1" fill="#FF0000"/>
<rect x="1530.5" y="326.5" width="110" height="24" fill="none" stroke="#404040" stroke-width="1" shape-rendering="crispEdges"/>
<rect x="1583.5" y="323.5" width="3" height="3" fill="#fff" stroke="#32CD32" stroke-width="1" shape-rendering="crispEdges"/>
<text x="1532.2" y="345.2" font-size="20.2" fill="#12FC00" textLength="104.5" lengthAdjust="spacingAndGlyphs" font-family='"Noto Sans CJK SC","WenQuanYi Zen Hei",sans-serif' font-weight="200">多空转折点</text>
<polygon points="1413,27 1423,27 1418,32" fill="#C0C0C0"/>
</g>
<g shape-rendering="crispEdges">
<rect x="0" y="26" width="1652" height="1" fill="#000"/>
<rect x="1651" y="26" width="1" height="554" fill="#000"/>
<rect x="0" y="579" width="1652" height="1" fill="#000"/>
<rect x="0" y="581" width="1652" height="1" fill="#000"/>
<rect x="1651" y="581" width="1" height="171" fill="#000"/>
<rect x="0" y="751" width="1652" height="1" fill="#000"/>
<rect x="0" y="753" width="1652" height="1" fill="#000"/>
<rect x="1651" y="753" width="1" height="175" fill="#000"/>
<rect x="0" y="927" width="1652" height="1" fill="#000"/>
<rect x="1697" y="24" width="1" height="919" fill="#DADADA"/>
</g>
<g shape-rendering="crispEdges">
<rect x="1652" y="48" width="2" height="1" fill="#000"/>
<rect x="1652" y="81" width="2" height="1" fill="#000"/>
<rect x="1652" y="114" width="2" height="1" fill="#000"/>
<rect x="1652" y="147" width="2" height="1" fill="#000"/>
<rect x="1652" y="180" width="2" height="1" fill="#000"/>
<rect x="1652" y="213" width="2" height="1" fill="#000"/>
<rect x="1652" y="246" width="2" height="1" fill="#000"/>
<rect x="1652" y="279" width="2" height="1" fill="#000"/>
<rect x="1652" y="312" width="2" height="1" fill="#000"/>
<rect x="1652" y="345" width="2" height="1" fill="#000"/>
<rect x="1652" y="378" width="2" height="1" fill="#000"/>
<rect x="1652" y="411" width="2" height="1" fill="#000"/>
<rect x="1652" y="444" width="2" height="1" fill="#000"/>
<rect x="1652" y="477" width="2" height="1" fill="#000"/>
<rect x="1652" y="510" width="2" height="1" fill="#000"/>
<rect x="1652" y="543" width="2" height="1" fill="#000"/>
<rect x="1652" y="576" width="2" height="1" fill="#000"/>
</g>
<text x="1657.5" y="52" font-size="10.5" fill="#000" textLength="32" lengthAdjust="spacingAndGlyphs" >153.490</text>
<text x="1657.5" y="85" font-size="10.5" fill="#000" textLength="32" lengthAdjust="spacingAndGlyphs" >153.165</text>
<text x="1657.5" y="118" font-size="10.5" fill="#000" textLength="32" lengthAdjust="spacingAndGlyphs" >152.845</text>
<text x="1657.5" y="151" font-size="10.5" fill="#000" textLength="32" lengthAdjust="spacingAndGlyphs" >152.525</text>
<text x="1657.5" y="184" font-size="10.5" fill="#000" textLength="32" lengthAdjust="spacingAndGlyphs" >152.200</text>
<text x="1657.5" y="217" font-size="10.5" fill="#000" textLength="32" lengthAdjust="spacingAndGlyphs" >151.880</text>
<text x="1657.5" y="250" font-size="10.5" fill="#000" textLength="32" lengthAdjust="spacingAndGlyphs" >151.560</text>
<text x="1657.5" y="283" font-size="10.5" fill="#000" textLength="32" lengthAdjust="spacingAndGlyphs" >151.235</text>
<text x="1657.5" y="316" font-size="10.5" fill="#000" textLength="32" lengthAdjust="spacingAndGlyphs" >150.915</text>
<text x="1657.5" y="349" font-size="10.5" fill="#000" textLength="32" lengthAdjust="spacingAndGlyphs" >150.590</text>
<text x="1657.5" y="382" font-size="10.5" fill="#000" textLength="32" lengthAdjust="spacingAndGlyphs" >150.270</text>
<text x="1657.5" y="415" font-size="10.5" fill="#000" textLength="32" lengthAdjust="spacingAndGlyphs" >149.950</text>
<text x="1657.5" y="448" font-size="10.5" fill="#000" textLength="32" lengthAdjust="spacingAndGlyphs" >149.630</text>
<text x="1657.5" y="481" font-size="10.5" fill="#000" textLength="32" lengthAdjust="spacingAndGlyphs" >149.305</text>
<text x="1657.5" y="514" font-size="10.5" fill="#000" textLength="32" lengthAdjust="spacingAndGlyphs" >148.985</text>
<text x="1657.5" y="547" font-size="10.5" fill="#000" textLength="32" lengthAdjust="spacingAndGlyphs" >148.665</text>
<text x="1657.5" y="580" font-size="10.5" fill="#000" textLength="32" lengthAdjust="spacingAndGlyphs" >148.340</text>
<rect x="1653" y="292" width="41" height="11" fill="#FF0000" shape-rendering="crispEdges"/>
<text x="1657.5" y="301" font-size="10.5" fill="#fff" textLength="32" lengthAdjust="spacingAndGlyphs" >151.058</text>
<rect x="1653" y="313" width="41" height="11" fill="#FF0000" shape-rendering="crispEdges"/>
<text x="1657.5" y="322" font-size="10.5" fill="#fff" textLength="32" lengthAdjust="spacingAndGlyphs" >150.845</text>
<rect x="1653" y="337" width="41" height="11" fill="#32CD32" shape-rendering="crispEdges"/>
<text x="1657.5" y="346" font-size="10.5" fill="#fff" textLength="32" lengthAdjust="spacingAndGlyphs" >150.612</text>
<rect x="1653" y="359" width="41" height="11" fill="#000000" shape-rendering="crispEdges"/>
<text x="1657.5" y="368" font-size="10.5" fill="#fff" textLength="32" lengthAdjust="spacingAndGlyphs" >150.413</text>
<rect x="1653" y="379" width="41" height="11" fill="#0000FF" shape-rendering="crispEdges"/>
<text x="1657.5" y="388" font-size="10.5" fill="#fff" textLength="32" lengthAdjust="spacingAndGlyphs" >150.204</text>
<rect x="1653" y="395" width="41" height="11" fill="#0000FF" shape-rendering="crispEdges"/>
<text x="1657.5" y="404" font-size="10.5" fill="#fff" textLength="32" lengthAdjust="spacingAndGlyphs" >150.048</text>
<g clip-path="url(#c2)">
<g shape-rendering="crispEdges">
<rect x="1" y="627" width="1" height="15" fill="#C0C0C0"/>
<rect x="9" y="630" width="1" height="12" fill="#C0C0C0"/>
<rect x="17" y="631" width="1" height="11" fill="#C0C0C0"/>
<rect x="25" y="633" width="1" height="9" fill="#C0C0C0"/>
<rect x="33" y="634" width="1" height="8" fill="#C0C0C0"/>
<rect x="41" y="634" width="1" height="8" fill="#C0C0C0"/>
<rect x="49" y="631" width="1" height="11" fill="#C0C0C0"/>
<rect x="57" y="636" width="1" height="6" fill="#C0C0C0"/>
<rect x="65" y="641" width="1" height="1" fill="#C0C0C0"/>
<rect x="73" y="641" width="1" height="2" fill="#C0C0C0"/>
<rect x="81" y="641" width="1" height="10" fill="#C0C0C0"/>
<rect x="89" y="641" width="1" height="19" fill="#C0C0C0"/>
<rect x="97" y="641" width="1" height="16" fill="#C0C0C0"/>
<rect x="105" y="641" width="1" height="15" fill="#C0C0C0"/>
<rect x="113" y="641" width="1" height="21" fill="#C0C0C0"/>
<rect x="121" y="641" width="1" height="25" fill="#C0C0C0"/>
<rect x="129" y="641" width="1" height="24" fill="#C0C0C0"/>
<rect x="137" y="641" width="1" height="23" fill="#C0C0C0"/>
<rect x="145" y="641" width="1" height="22" fill="#C0C0C0"/>
<rect x="153" y="641" width="1" height="25" fill="#C0C0C0"/>
<rect x="161" y="641" width="1" height="30" fill="#C0C0C0"/>
<rect x="169" y="641" width="1" height="36" fill="#C0C0C0"/>
<rect x="177" y="641" width="1" height="40" fill="#C0C0C0"/>
<rect x="185" y="641" width="1" height="49" fill="#C0C0C0"/>
<rect x="193" y="641" width="1" height="57" fill="#C0C0C0"/>
<rect x="201" y="641" width="1" height="71" fill="#C0C0C0"/>
<rect x="209" y="641" width="1" height="82" fill="#C0C0C0"/>
<rect x="217" y="641" width="1" height="89" fill="#C0C0C0"/>
<rect x="225" y="641" width="1" height="94" fill="#C0C0C0"/>
<rect x="233" y="641" width="1" height="98" fill="#C0C0C0"/>
<rect x="241" y="641" width="1" height="103" fill="#C0C0C0"/>
<rect x="249" y="641" width="1" height="101" fill="#C0C0C0"/>
<rect x="257" y="641" width="1" height="99" fill="#C0C0C0"/>
<rect x="265" y="641" width="1" height="94" fill="#C0C0C0"/>
<rect x="273" y="641" width="1" height="91" fill="#C0C0C0"/>
<rect x="281" y="641" width="1" height="86" fill="#C0C0C0"/>
<rect x="289" y="641" width="1" height="79" fill="#C0C0C0"/>
<rect x="297" y="641" width="1" height="65" fill="#C0C0C0"/>
<rect x="305" y="641" width="1" height="48" fill="#C0C0C0"/>
<rect x="313" y="641" width="1" height="35" fill="#C0C0C0"/>
<rect x="321" y="641" width="1" height="27" fill="#C0C0C0"/>
<rect x="329" y="641" width="1" height="16" fill="#C0C0C0"/>
<rect x="337" y="641" width="1" height="1" fill="#C0C0C0"/>
<rect x="345" y="637" width="1" height="5" fill="#C0C0C0"/>
<rect x="353" y="631" width="1" height="11" fill="#C0C0C0"/>
<rect x="361" y="625" width="1" height="17" fill="#C0C0C0"/>
<rect x="369" y="620" width="1" height="22" fill="#C0C0C0"/>
<rect x="377" y="617" width="1" height="25" fill="#C0C0C0"/>
<rect x="385" y="614" width="1" height="28" fill="#C0C0C0"/>
<rect x="393" y="610" width="1" height="32" fill="#C0C0C0"/>
<rect x="401" y="606" width="1" height="36" fill="#C0C0C0"/>
<rect x="409" y="603" width="1" height="39" fill="#C0C0C0"/>
<rect x="417" y="606" width="1" height="36" fill="#C0C0C0"/>
<rect x="425" y="609" width="1" height="33" fill="#C0C0C0"/>
<rect x="433" y="605" width="1" height="37" fill="#C0C0C0"/>
<rect x="441" y="600" width="1" height="42" fill="#C0C0C0"/>
<rect x="449" y="596" width="1" height="46" fill="#C0C0C0"/>
<rect x="457" y="593" width="1" height="49" fill="#C0C0C0"/>
<rect x="465" y="593" width="1" height="49" fill="#C0C0C0"/>
<rect x="473" y="599" width="1" height="43" fill="#C0C0C0"/>
<rect x="481" y="601" width="1" height="41" fill="#C0C0C0"/>
<rect x="489" y="601" width="1" height="41" fill="#C0C0C0"/>
<rect x="497" y="603" width="1" height="39" fill="#C0C0C0"/>
<rect x="505" y="604" width="1" height="38" fill="#C0C0C0"/>
<rect x="513" y="604" width="1" height="38" fill="#C0C0C0"/>
<rect x="521" y="603" width="1" height="39" fill="#C0C0C0"/>
<rect x="529" y="601" width="1" height="41" fill="#C0C0C0"/>
<rect x="537" y="599" width="1" height="43" fill="#C0C0C0"/>
<rect x="545" y="598" width="1" height="44" fill="#C0C0C0"/>
<rect x="553" y="598" width="1" height="44" fill="#C0C0C0"/>
<rect x="561" y="597" width="1" height="45" fill="#C0C0C0"/>
<rect x="569" y="595" width="1" height="47" fill="#C0C0C0"/>
<rect x="577" y="591" width="1" height="51" fill="#C0C0C0"/>
<rect x="585" y="593" width="1" height="49" fill="#C0C0C0"/>
<rect x="593" y="596" width="1" height="46" fill="#C0C0C0"/>
<rect x="601" y="600" width="1" height="42" fill="#C0C0C0"/>
<rect x="609" y="604" width="1" height="38" fill="#C0C0C0"/>
<rect x="617" y="605" width="1" height="37" fill="#C0C0C0"/>
<rect x="625" y="605" width="1" height="37" fill="#C0C0C0"/>
<rect x="633" y="610" width="1" height="32" fill="#C0C0C0"/>
<rect x="641" y="616" width="1" height="26" fill="#C0C0C0"/>
<rect x="649" y="621" width="1" height="21" fill="#C0C0C0"/>
<rect x="657" y="626" width="1" height="16" fill="#C0C0C0"/>
<rect x="665" y="627" width="1" height="15" fill="#C0C0C0"/>
<rect x="673" y="633" width="1" height="9" fill="#C0C0C0"/>
<rect x="681" y="641" width="1" height="1" fill="#C0C0C0"/>
<rect x="689" y="641" width="1" height="7" fill="#C0C0C0"/>
<rect x="697" y="641" width="1" height="14" fill="#C0C0C0"/>
<rect x="705" y="641" width="1" height="17" fill="#C0C0C0"/>
<rect x="713" y="641" width="1" height="18" fill="#C0C0C0"/>
<rect x="721" y="641" width="1" height="17" fill="#C0C0C0"/>
<rect x="729" y="641" width="1" height="21" fill="#C0C0C0"/>
<rect x="737" y="641" width="1" height="22" fill="#C0C0C0"/>
<rect x="745" y="641" width="1" height="25" fill="#C0C0C0"/>
<rect x="753" y="641" width="1" height="24" fill="#C0C0C0"/>
<rect x="761" y="641" width="1" height="21" fill="#C0C0C0"/>
<rect x="769" y="641" width="1" height="20" fill="#C0C0C0"/>
<rect x="777" y="641" width="1" height="16" fill="#C0C0C0"/>
<rect x="785" y="641" width="1" height="15" fill="#C0C0C0"/>
<rect x="793" y="641" width="1" height="13" fill="#C0C0C0"/>
<rect x="801" y="641" width="1" height="9" fill="#C0C0C0"/>
<rect x="809" y="641" width="1" height="3" fill="#C0C0C0"/>
<rect x="817" y="641" width="1" height="1" fill="#C0C0C0"/>
<rect x="825" y="635" width="1" height="7" fill="#C0C0C0"/>
<rect x="833" y="629" width="1" height="13" fill="#C0C0C0"/>
<rect x="841" y="625" width="1" height="17" fill="#C0C0C0"/>
<rect x="849" y="621" width="1" height="21" fill="#C0C0C0"/>
<rect x="857" y="621" width="1" height="21" fill="#C0C0C0"/>
<rect x="865" y="620" width="1" height="22" fill="#C0C0C0"/>
<rect x="873" y="618" width="1" height="24" fill="#C0C0C0"/>
<rect x="881" y="617" width="1" height="25" fill="#C0C0C0"/>
<rect x="889" y="617" width="1" height="25" fill="#C0C0C0"/>
<rect x="897" y="617" width="1" height="25" fill="#C0C0C0"/>
<rect x="905" y="619" width="1" height="23" fill="#C0C0C0"/>
<rect x="913" y="620" width="1" height="22" fill="#C0C0C0"/>
<rect x="921" y="622" width="1" height="20" fill="#C0C0C0"/>
<rect x="929" y="624" width="1" height="18" fill="#C0C0C0"/>
<rect x="937" y="625" width="1" height="17" fill="#C0C0C0"/>
<rect x="945" y="626" width="1" height="16" fill="#C0C0C0"/>
<rect x="953" y="625" width="1" height="17" fill="#C0C0C0"/>
<rect x="961" y="622" width="1" height="20" fill="#C0C0C0"/>
<rect x="969" y="622" width="1" height="20" fill="#C0C0C0"/>
<rect x="977" y="622" width="1" height="20" fill="#C0C0C0"/>
<rect x="985" y="623" width="1" height="19" fill="#C0C0C0"/>
<rect x="993" y="623" width="1" height="19" fill="#C0C0C0"/>
<rect x="1001" y="623" width="1" height="19" fill="#C0C0C0"/>
<rect x="1009" y="623" width="1" height="19" fill="#C0C0C0"/>
<rect x="1017" y="622" width="1" height="20" fill="#C0C0C0"/>
<rect x="1025" y="622" width="1" height="20" fill="#C0C0C0"/>
<rect x="1033" y="623" width="1" height="19" fill="#C0C0C0"/>
<rect x="1041" y="624" width="1" height="18" fill="#C0C0C0"/>
<rect x="1049" y="624" width="1" height="18" fill="#C0C0C0"/>
<rect x="1057" y="626" width="1" height="16" fill="#C0C0C0"/>
<rect x="1065" y="631" width="1" height="11" fill="#C0C0C0"/>
<rect x="1073" y="638" width="1" height="4" fill="#C0C0C0"/>
<rect x="1081" y="641" width="1" height="1" fill="#C0C0C0"/>
<rect x="1089" y="641" width="1" height="5" fill="#C0C0C0"/>
<rect x="1097" y="641" width="1" height="9" fill="#C0C0C0"/>
<rect x="1105" y="641" width="1" height="13" fill="#C0C0C0"/>
<rect x="1113" y="641" width="1" height="18" fill="#C0C0C0"/>
<rect x="1121" y="641" width="1" height="21" fill="#C0C0C0"/>
<rect x="1129" y="641" width="1" height="26" fill="#C0C0C0"/>
<rect x="1137" y="641" width="1" height="32" fill="#C0C0C0"/>
<rect x="1145" y="641" width="1" height="37" fill="#C0C0C0"/>
<rect x="1153" y="641" width="1" height="40" fill="#C0C0C0"/>
<rect x="1161" y="641" width="1" height="45" fill="#C0C0C0"/>
<rect x="1169" y="641" width="1" height="50" fill="#C0C0C0"/>
<rect x="1177" y="641" width="1" height="51" fill="#C0C0C0"/>
<rect x="1185" y="641" width="1" height="55" fill="#C0C0C0"/>
<rect x="1193" y="641" width="1" height="60" fill="#C0C0C0"/>
<rect x="1201" y="641" width="1" height="64" fill="#C0C0C0"/>
<rect x="1209" y="641" width="1" height="67" fill="#C0C0C0"/>
<rect x="1217" y="641" width="1" height="70" fill="#C0C0C0"/>
<rect x="1225" y="641" width="1" height="71" fill="#C0C0C0"/>
<rect x="1233" y="641" width="1" height="68" fill="#C0C0C0"/>
<rect x="1241" y="641" width="1" height="68" fill="#C0C0C0"/>
<rect x="1249" y="641" width="1" height="60" fill="#C0C0C0"/>
<rect x="1257" y="641" width="1" height="56" fill="#C0C0C0"/>
<rect x="1265" y="641" width="1" height="51" fill="#C0C0C0"/>
<rect x="1273" y="641" width="1" height="48" fill="#C0C0C0"/>
<rect x="1281" y="641" width="1" height="44" fill="#C0C0C0"/>
<rect x="1289" y="641" width="1" height="46" fill="#C0C0C0"/>
<rect x="1297" y="641" width="1" height="55" fill="#C0C0C0"/>
<rect x="1305" y="641" width="1" height="57" fill="#C0C0C0"/>
<rect x="1313" y="641" width="1" height="63" fill="#C0C0C0"/>
<rect x="1321" y="641" width="1" height="66" fill="#C0C0C0"/>
<rect x="1329" y="641" width="1" height="70" fill="#C0C0C0"/>
<rect x="1337" y="641" width="1" height="75" fill="#C0C0C0"/>
<rect x="1345" y="641" width="1" height="78" fill="#C0C0C0"/>
<rect x="1353" y="641" width="1" height="76" fill="#C0C0C0"/>
<rect x="1361" y="641" width="1" height="73" fill="#C0C0C0"/>
<rect x="1369" y="641" width="1" height="70" fill="#C0C0C0"/>
<rect x="1377" y="641" width="1" height="61" fill="#C0C0C0"/>
<rect x="1385" y="641" width="1" height="53" fill="#C0C0C0"/>
<rect x="1393" y="641" width="1" height="45" fill="#C0C0C0"/>
<rect x="1401" y="641" width="1" height="36" fill="#C0C0C0"/>
<rect x="1409" y="641" width="1" height="29" fill="#C0C0C0"/>
<rect x="1417" y="641" width="1" height="21" fill="#C0C0C0"/>
</g>
<polyline points="0.0,638.0 10.0,633.0 20.0,629.7 33.3,628.0 46.7,628.7 60.0,631.3 76.7,635.3 90.0,639.0 103.3,644.7 116.7,649.7 130.0,656.3 146.7,659.7 163.3,664.0 180.0,669.0 193.3,674.7 206.7,684.0 220.0,696.3 233.3,709.7 246.7,721.3 260.0,729.7 273.3,734.7 286.7,734.7 300.0,729.7 313.3,718.0 326.7,703.0 340.0,686.3 353.3,668.0 366.7,651.3 380.0,638.0 393.3,626.3 406.7,618.0 423.3,611.3 440.0,607.3 456.7,602.0 473.3,600.0 493.3,599.3 513.3,599.3 533.3,601.3 550.0,601.3 566.0,599.7 582.7,597.0 602.7,595.3 619.3,597.3 632.7,598.7 646.0,603.0 662.7,610.3 679.3,618.7 692.7,628.0 706.0,636.3 719.3,643.7 732.7,650.3 746.0,657.3 759.3,659.7 772.7,661.3 786.0,661.3 799.3,659.0 812.7,656.3 826.0,649.7 839.3,644.0 852.7,637.3 866.0,631.3 879.3,625.7 892.7,622.0 906.0,619.7 919.3,618.3 932.7,618.7 946.0,620.7 966.0,622.0 992.7,623.0 1019.3,622.3 1046.0,622.3 1062.7,623.7 1079.3,626.3 1092.7,631.3 1106.0,636.3 1119.3,643.0 1132.0,650.3 1145.3,658.0 1162.0,667.3 1178.7,677.0 1195.3,684.7 1212.0,693.0 1228.7,700.7 1242.0,704.7 1258.7,705.3 1275.3,703.0 1288.7,697.3 1302.0,694.0 1313.7,693.3 1328.7,695.3 1342.0,699.7 1355.3,705.7 1368.7,709.7 1382.0,711.3 1395.3,708.0 1408.7,700.7 1417.0,693.7" fill="none" stroke="#FF0000" stroke-width="1" stroke-dasharray="3,3" shape-rendering="crispEdges"/>
<line x1="1363.5" y1="722.1" x2="1423.3" y2="663.5" stroke="#FF0000" stroke-width="3"/>
<polygon points="1427.9,658.9 1424.8,667.9 1418.9,661.9" fill="#FF0000"/>
</g>
<text x="-2.6" y="594.5" font-size="10.5" fill="#000" textLength="133" lengthAdjust="spacingAndGlyphs" >MACD(12,26,9) -0.1806 -0.4069</text>
<g shape-rendering="crispEdges">
<rect x="1652" y="583" width="1" height="1" fill="#000"/>
<rect x="1652" y="641" width="2" height="1" fill="#000"/>
<rect x="1652" y="749" width="1" height="1" fill="#000"/>
</g>
<text x="1655" y="592.5" font-size="10.5" fill="#000" textLength="27" lengthAdjust="spacingAndGlyphs" >0.4534</text>
<text x="1655" y="645" font-size="10.5" fill="#000" textLength="17.5" lengthAdjust="spacingAndGlyphs" >0.00</text>
<text x="1655" y="748" font-size="10.5" fill="#000" textLength="30.5" lengthAdjust="spacingAndGlyphs" >-0.8513</text>
<g clip-path="url(#c3)">
<line x1="0" y1="789.5" x2="1651" y2="789.5" stroke="#C0C0C0" stroke-width="1" stroke-dasharray="3,3" shape-rendering="crispEdges"/>
<line x1="0" y1="840.5" x2="1651" y2="840.5" stroke="#C0C0C0" stroke-width="1" stroke-dasharray="3,3" shape-rendering="crispEdges"/>
<line x1="0" y1="901.5" x2="1651" y2="901.5" stroke="#C0C0C0" stroke-width="1" stroke-dasharray="3,3" shape-rendering="crispEdges"/>
<polyline points="1.5,842.7 9.5,839.0 17.5,840.3 25.5,842.3 33.5,840.7 41.5,835.0 49.5,830.3 57.5,849.0 65.5,850.3 73.5,849.3 81.5,860.0 89.5,866.3 97.5,840.3 105.5,844.3 113.5,857.3 121.5,856.3 129.5,847.0 137.5,848.3 145.5,846.3 153.5,855.0 161.5,859.3 169.5,865.3 177.5,864.3 185.5,872.7 193.5,877.0 201.5,884.0 209.5,886.3 217.5,884.3 225.5,885.3 233.5,886.3 241.5,888.3 249.5,876.0 257.5,874.0 265.5,867.3 273.5,871.3 281.5,865.3 289.5,861.0 297.5,832.3 305.5,827.0 313.5,829.0 321.5,835.3 329.5,824.0 337.5,817.3 345.5,830.3 353.5,826.3 361.5,824.3 369.5,823.0 377.5,827.3 385.5,823.3 393.5,820.3 401.5,818.3 409.5,818.3 417.5,831.0 425.5,833.3 433.5,821.3 441.5,813.0 449.5,813.0 457.5,815.0 465.5,820.0 473.5,837.3 481.5,833.3 489.5,827.3 497.5,825.0 505.5,823.0 513.5,826.3 521.5,821.0 529.5,816.3 537.5,815.0 545.5,815.0 553.5,815.0 561.5,812.3 569.5,806.7 577.5,802.3 585.5,820.7 593.5,826.0 601.5,829.3 609.5,832.3 617.5,822.7 625.5,821.0 633.5,837.3 641.5,843.3 649.5,844.7 657.5,845.7 665.5,836.3 673.5,851.0 681.5,865.3 689.5,859.0 697.5,860.3 705.5,860.3 713.5,853.3 721.5,847.3 729.5,858.3 737.5,855.3 745.5,858.7 753.5,851.7 761.5,842.3 769.5,849.3 777.5,837.3 785.5,844.3 793.5,840.0 801.5,834.0 809.5,827.3 817.5,834.3 825.5,821.0 833.5,821.0 841.5,823.3 849.5,821.0 857.5,828.3 865.5,827.0 873.5,823.0 881.5,822.7 889.5,824.0 897.5,826.0 905.5,830.0 913.5,831.7 921.5,834.3 929.5,831.0 937.5,832.0 945.5,830.0 953.5,821.7 961.5,814.0 969.5,826.3 977.5,826.3 985.5,824.3 993.5,825.7 1001.5,824.3 1009.5,820.3 1017.5,816.0 1025.5,817.3 1033.5,826.3 1041.5,823.0 1049.5,819.3 1057.5,838.3 1065.5,855.0 1073.5,865.7 1081.5,862.0 1089.5,858.3 1097.5,868.3 1105.5,865.3 1113.5,875.0 1121.5,877.0 1129.5,878.3 1137.5,890.0 1145.5,885.0 1153.5,879.3 1161.5,886.7 1169.5,890.3 1177.5,883.3 1185.5,888.0 1193.5,891.3 1201.5,894.3 1209.5,896.3 1217.5,896.3 1225.5,897.3 1233.5,877.0 1241.5,881.0 1249.5,855.3 1257.5,855.3 1265.5,858.3 1273.5,860.3 1281.5,850.3 1289.5,872.3 1297.5,880.3 1305.5,875.3 1313.5,881.3 1321.5,882.3 1329.5,883.3 1337.5,887.3 1345.5,885.0 1353.5,873.3 1361.5,873.3 1369.5,869.0 1377.5,856.3 1385.5,854.3 1393.5,832.7 1401.5,835.3 1409.5,837.3 1417.5,839.3" fill="none" stroke="#1E90FF" stroke-width="1" stroke-linejoin="round" shape-rendering="crispEdges"/>
<line x1="1337.2" y1="890.2" x2="1391.5" y2="834.4" stroke="#FF0000" stroke-width="3"/>
<polygon points="1396.7,829.0 1393.4,839.0 1386.8,832.6" fill="#FF0000"/>
<line x1="1396.7" y1="829.3" x2="1414.8" y2="838.4" stroke="#FF0000" stroke-width="3"/>
<polygon points="1422.8,842.5 1410.9,841.6 1415.1,833.4" fill="#FF0000"/>
</g>
<text x="-2" y="766.4" font-size="10.5" fill="#000" textLength="67.4" lengthAdjust="spacingAndGlyphs" >RSI(14) 50.5727</text>
<g shape-rendering="crispEdges">
<rect x="1652" y="755" width="1" height="1" fill="#000"/>
<rect x="1652" y="789" width="2" height="1" fill="#000"/>
<rect x="1652" y="840" width="2" height="1" fill="#000"/>
<rect x="1652" y="901" width="2" height="1" fill="#000"/>
<rect x="1652" y="926" width="1" height="1" fill="#000"/>
</g>
<text x="1655" y="764" font-size="10.5" fill="#000" textLength="15" lengthAdjust="spacingAndGlyphs" >100</text>
<text x="1655" y="793" font-size="10.5" fill="#000" textLength="10" lengthAdjust="spacingAndGlyphs" >80</text>
<text x="1655" y="844" font-size="10.5" fill="#000" textLength="10" lengthAdjust="spacingAndGlyphs" >50</text>
<text x="1655" y="905" font-size="10.5" fill="#000" textLength="10" lengthAdjust="spacingAndGlyphs" >15</text>
<text x="1655" y="924" font-size="10.5" fill="#000" textLength="5" lengthAdjust="spacingAndGlyphs" >0</text>
<g shape-rendering="crispEdges">
<rect x="57" y="928" width="1" height="3" fill="#000"/>
<rect x="121" y="928" width="1" height="3" fill="#000"/>
<rect x="185" y="928" width="1" height="3" fill="#000"/>
<rect x="249" y="928" width="1" height="3" fill="#000"/>
<rect x="313" y="928" width="1" height="3" fill="#000"/>
<rect x="377" y="928" width="1" height="3" fill="#000"/>
<rect x="441" y="928" width="1" height="3" fill="#000"/>
<rect x="505" y="928" width="1" height="3" fill="#000"/>
<rect x="569" y="928" width="1" height="3" fill="#000"/>
<rect x="633" y="928" width="1" height="3" fill="#000"/>
<rect x="697" y="928" width="1" height="3" fill="#000"/>
<rect x="761" y="928" width="1" height="3" fill="#000"/>
<rect x="825" y="928" width="1" height="3" fill="#000"/>
<rect x="889" y="928" width="1" height="3" fill="#000"/>
<rect x="953" y="928" width="1" height="3" fill="#000"/>
<rect x="1017" y="928" width="1" height="3" fill="#000"/>
<rect x="1081" y="928" width="1" height="3" fill="#000"/>
<rect x="1145" y="928" width="1" height="3" fill="#000"/>
<rect x="1209" y="928" width="1" height="3" fill="#000"/>
<rect x="1273" y="928" width="1" height="3" fill="#000"/>
<rect x="1337" y="928" width="1" height="3" fill="#000"/>
<rect x="1401" y="928" width="1" height="3" fill="#000"/>
</g>
<text x="-7.4" y="940" font-size="10.5" fill="#000" textLength="46.3" lengthAdjust="spacingAndGlyphs" >13 Jul 2021</text>
<text x="56.6" y="940" font-size="10.5" fill="#000" textLength="49.2" lengthAdjust="spacingAndGlyphs" >14 Jul 12:00</text>
<text x="120.6" y="940" font-size="10.5" fill="#000" textLength="49.2" lengthAdjust="spacingAndGlyphs" >15 Jul 20:00</text>
<text x="184.6" y="940" font-size="10.5" fill="#000" textLength="49.2" lengthAdjust="spacingAndGlyphs" >19 Jul 04:00</text>
<text x="248.6" y="940" font-size="10.5" fill="#000" textLength="49.2" lengthAdjust="spacingAndGlyphs" >20 Jul 12:00</text>
<text x="312.6" y="940" font-size="10.5" fill="#000" textLength="49.2" lengthAdjust="spacingAndGlyphs" >21 Jul 20:00</text>
<text x="376.6" y="940" font-size="10.5" fill="#000" textLength="49.2" lengthAdjust="spacingAndGlyphs" >23 Jul 04:00</text>
<text x="440.6" y="940" font-size="10.5" fill="#000" textLength="49.2" lengthAdjust="spacingAndGlyphs" >26 Jul 12:00</text>
<text x="504.6" y="940" font-size="10.5" fill="#000" textLength="49.2" lengthAdjust="spacingAndGlyphs" >27 Jul 20:00</text>
<text x="568.6" y="940" font-size="10.5" fill="#000" textLength="49.2" lengthAdjust="spacingAndGlyphs" >29 Jul 04:00</text>
<text x="632.6" y="940" font-size="10.5" fill="#000" textLength="49.2" lengthAdjust="spacingAndGlyphs" >30 Jul 12:00</text>
<text x="696.6" y="940" font-size="10.5" fill="#000" textLength="50" lengthAdjust="spacingAndGlyphs" >2 Aug 20:00</text>
<text x="760.6" y="940" font-size="10.5" fill="#000" textLength="50" lengthAdjust="spacingAndGlyphs" >4 Aug 04:00</text>
<text x="824.6" y="940" font-size="10.5" fill="#000" textLength="50" lengthAdjust="spacingAndGlyphs" >5 Aug 12:00</text>
<text x="888.6" y="940" font-size="10.5" fill="#000" textLength="50" lengthAdjust="spacingAndGlyphs" >8 Aug 23:00</text>
<text x="952.6" y="940" font-size="10.5" fill="#000" textLength="55.5" lengthAdjust="spacingAndGlyphs" >10 Aug 04:00</text>
<text x="1016.6" y="940" font-size="10.5" fill="#000" textLength="55.5" lengthAdjust="spacingAndGlyphs" >11 Aug 12:00</text>
<text x="1080.6" y="940" font-size="10.5" fill="#000" textLength="55.5" lengthAdjust="spacingAndGlyphs" >12 Aug 20:00</text>
<text x="1144.6" y="940" font-size="10.5" fill="#000" textLength="55.5" lengthAdjust="spacingAndGlyphs" >16 Aug 04:00</text>
<text x="1208.6" y="940" font-size="10.5" fill="#000" textLength="55.5" lengthAdjust="spacingAndGlyphs" >17 Aug 12:00</text>
<text x="1272.6" y="940" font-size="10.5" fill="#000" textLength="55.5" lengthAdjust="spacingAndGlyphs" >18 Aug 20:00</text>
<text x="1336.6" y="940" font-size="10.5" fill="#000" textLength="55.5" lengthAdjust="spacingAndGlyphs" >20 Aug 04:00</text>
<text x="1400.6" y="940" font-size="10.5" fill="#000" textLength="55.5" lengthAdjust="spacingAndGlyphs" >23 Aug 12:00</text>
</svg>
<div style="position:absolute;left:0;top:0;width:1698px;height:26px;background:#fff">
<div style="position:absolute;left:0;top:0;width:1698px;height:21px;background:#F0F0F0"></div>
<div style="position:absolute;left:0;top:21px;width:1698px;height:1px;background:#FAFAFA"></div>
<div style="position:absolute;left:0;top:22px;width:1698px;height:1px;background:#A0A0A0"></div>
<div style="position:absolute;left:0;top:23px;width:1698px;height:1px;background:#696969"></div>
<svg width="1698" height="22" viewBox="0 0 1698 22" style="position:absolute;left:0;top:0" font-family='"Liberation Sans","Noto Sans CJK SC",sans-serif'>
<defs><pattern id="dz" width="2" height="2" patternUnits="userSpaceOnUse"><rect width="2" height="2" fill="#F4F4F4"/><rect width="1" height="1" fill="#FFFFFF"/><rect x="1" y="1" width="1" height="1" fill="#FFFFFF"/></pattern><linearGradient id="gold" x1="0" y1="0" x2="1" y2="1"><stop offset="0" stop-color="#FFEA70"/><stop offset="0.55" stop-color="#F0C020"/><stop offset="1" stop-color="#C88A0C"/></linearGradient><linearGradient id="grn" x1="0" y1="0" x2="0" y2="1"><stop offset="0" stop-color="#7CF07C"/><stop offset="1" stop-color="#10A010"/></linearGradient><linearGradient id="blu" x1="0" y1="0" x2="0" y2="1"><stop offset="0" stop-color="#6FB4F4"/><stop offset="1" stop-color="#1650B8"/></linearGradient><radialGradient id="lens" cx="0.4" cy="0.35" r="0.7"><stop offset="0" stop-color="#FFFFFF"/><stop offset="1" stop-color="#B8DCF4"/></radialGradient><linearGradient id="redg" x1="0" y1="0" x2="0" y2="1"><stop offset="0" stop-color="#EA5A38"/><stop offset="1" stop-color="#D61C0C"/></linearGradient></defs>
<circle cx="-4.6" cy="8.5" r="5" fill="url(#lens)" stroke="#3C7CC8" stroke-width="1.4"/>
<line x1="0.2" y1="13" x2="4.4" y2="18" stroke="#9A7A10" stroke-width="3.4" stroke-linecap="round"/>
<line x1="0.4" y1="13.3" x2="4.2" y2="17.7" stroke="#F0D060" stroke-width="1.8" stroke-linecap="round"/>
<rect x="12" y="0" width="1" height="20" fill="#A0A0A0" shape-rendering="crispEdges"/>
<rect x="13" y="0" width="1" height="20" fill="#FFFFFF" shape-rendering="crispEdges"/>
<path d="M22.5,3 h7.5 l4,4 v9.5 h-11.5 z" fill="#FDFDFD" stroke="#7A7A7A" stroke-width="1"/>
<path d="M30.0,3 v4 h4" fill="#E0E0E0" stroke="#7A7A7A" stroke-width="0.8"/>
<path d="M24.5,7 h4 M24.5,9.5 h7 M24.5,12 h7" stroke="#8A8A8A" stroke-width="1"/>
<path d="M30.0,8.2 h3.7 v3.9 h3.9 v3.7 h-3.9 v3.9 h-3.7 v-3.9 h-3.9 v-3.7 h3.9 z" fill="url(#grn)" stroke="#0A8A0A" stroke-width="0.9"/>
<text x="41" y="14.2" font-size="12" fill="#000">新订单</text>
<path d="M89.2,12 Q91,6 93.7,3.2 L95.7,2.9 L104.7,10.7 L97.9,17.5 Z" fill="url(#gold)" stroke="#9A6A0E" stroke-width="1" stroke-linejoin="round"/>
<path d="M90.2,13.3 L97.9,18.2 L104.9,11.6" fill="none" stroke="#8A5A08" stroke-width="1.2"/>
<path d="M94.5,5 L102.6,11" fill="none" stroke="#FFF0A0" stroke-width="1.2" opacity="0.8"/>
<path d="M119.2,4 L123,2.3 L130.3,3.2 L130.3,11 L119.2,11 Z" fill="#2A94F0" stroke="#1A6CD0" stroke-width="0.8"/>
<path d="M122.6,4.6 V11 M124.6,6 l4.4,-0.8 M124.6,8 l4.4,-0.6" stroke="#DCEEFF" stroke-width="1"/>
<path d="M119.4,17.6 a2.7,2.7 0 0 1 0.2,-5.4 a3.6,3.6 0 0 1 6.6,-1.6 a3.2,3.2 0 0 1 4.6,2.6 a2.3,2.3 0 0 1 -0.2,4.4 z" fill="#EEF2FA" stroke="#4A68A8" stroke-width="1"/>
<path d="M153,9.7 L153,17.6 A8,8 0 0 0 161,9.7 A8,8 0 0 0 156,2.3 Z" fill="#BFE0B8" opacity="0.75"/>
<circle cx="153" cy="9.7" r="7.7" fill="none" stroke="#A8C0E4" stroke-width="1.2"/>
<circle cx="153" cy="9.7" r="5" fill="none" stroke="#7C9CDC" stroke-width="1.2"/>
<circle cx="153" cy="9.7" r="2.8" fill="none" stroke="#9CB4E4" stroke-width="0.8"/>
<path d="M153.4,9.7 V17.4 H156.4" stroke="#1CA01C" stroke-width="1.5" fill="none"/>
<circle cx="153" cy="9.4" r="1.7" fill="#2C5CD0"/>
<path d="M172.4,8.2 L187.6,8.2 L184.5,13 L180,17.8 L176,14 Z" fill="#F8DA48" stroke="#C8A010" stroke-width="0.9" stroke-linejoin="round"/>
<path d="M175,9.5 L183,9.5 L180,14.5 Z" fill="#FFF0A0" opacity="0.8"/>
<ellipse cx="179.8" cy="6.4" rx="7.8" ry="2.5" fill="#4C98D8" stroke="#2C70B8" stroke-width="0.8"/>
<path d="M175.8,6 a4.2,4.2 0 0 1 8.2,0 z" fill="#68B0E8" stroke="#2C70B8" stroke-width="0.8"/>
<circle cx="184.4" cy="13.6" r="4.2" fill="#E02410"/>
<rect x="182.8" y="12" width="3.2" height="3.2" fill="#FFFFFF"/>
<text x="193.5" y="14.2" font-size="12" fill="#000" textLength="47" lengthAdjust="spacingAndGlyphs">自动交易</text>
<rect x="248" y="0" width="1" height="20" fill="#A0A0A0" shape-rendering="crispEdges"/>
<rect x="249" y="0" width="1" height="20" fill="#FFFFFF" shape-rendering="crispEdges"/>
<g shape-rendering="crispEdges" fill="#A8A8A8">
<rect x="251" y="1" width="4" height="1"/>
<rect x="251" y="3" width="4" height="1"/>
<rect x="251" y="5" width="4" height="1"/>
<rect x="251" y="7" width="4" height="1"/>
<rect x="251" y="9" width="4" height="1"/>
<rect x="251" y="11" width="4" height="1"/>
<rect x="251" y="13" width="4" height="1"/>
<rect x="251" y="15" width="4" height="1"/>
<rect x="251" y="17" width="4" height="1"/>
<rect x="251" y="19" width="4" height="1"/>
</g>
<g shape-rendering="crispEdges" fill="#555555">
<rect x="266" y="4" width="1" height="14"/>
<rect x="264" y="15" width="15" height="1"/>
<rect x="265" y="5" width="3" height="1"/><rect x="264" y="6" width="1" height="1"/><rect x="268" y="6" width="1" height="1"/>
<rect x="277" y="14" width="1" height="3"/><rect x="276" y="13" width="1" height="1"/><rect x="276" y="17" width="1" height="1"/>
</g>
<path d="M273.5,5.8 V13.2 M270.5,12.6 H273.5 M273.5,6.6 H276" stroke="#168A16" stroke-width="1.4" fill="none"/>
<rect x="287" y="0" width="24" height="21" fill="url(#dz)" shape-rendering="crispEdges"/>
<rect x="286" y="0" width="1" height="21" fill="#A0A0A0" shape-rendering="crispEdges"/>
<g shape-rendering="crispEdges" fill="#555555">
<rect x="294" y="4" width="1" height="14"/>
<rect x="292" y="15" width="15" height="1"/>
<rect x="293" y="5" width="3" height="1"/><rect x="292" y="6" width="1" height="1"/><rect x="296" y="6" width="1" height="1"/>
<rect x="305" y="14" width="1" height="3"/><rect x="304" y="13" width="1" height="1"/><rect x="304" y="17" width="1" height="1"/>
</g>
<path d="M300.8,2 V13.8" stroke="#108A10" stroke-width="1.2"/>
<rect x="298.6" y="4.3" width="4.4" height="7.2" fill="#30E050" stroke="#108A10" stroke-width="0.9"/>
<g shape-rendering="crispEdges" fill="#555555">
<rect x="322" y="4" width="1" height="14"/>
<rect x="320" y="15" width="15" height="1"/>
<rect x="321" y="5" width="3" height="1"/><rect x="320" y="6" width="1" height="1"/><rect x="324" y="6" width="1" height="1"/>
<rect x="333" y="14" width="1" height="3"/><rect x="332" y="13" width="1" height="1"/><rect x="332" y="17" width="1" height="1"/>
</g>
<path d="M321,13 Q324,7.5 327,7.2 Q329.5,7 333,11" stroke="#168A16" stroke-width="1.3" fill="none"/>
<rect x="343" y="0" width="1" height="20" fill="#A0A0A0" shape-rendering="crispEdges"/>
<rect x="344" y="0" width="1" height="20" fill="#FFFFFF" shape-rendering="crispEdges"/>
<line x1="361.40000000000003" y1="11.8" x2="366.8" y2="17" stroke="#9A7A10" stroke-width="3.6" stroke-linecap="round"/>
<line x1="361.8" y1="12.2" x2="366.6" y2="16.8" stroke="#F0D060" stroke-width="2" stroke-linecap="round"/>
<circle cx="357.8" cy="8" r="5.2" fill="url(#lens)" stroke="#3C7CC8" stroke-width="1.4"/>
<path d="M354.8,8 h6 M357.8,5 v6" stroke="#2E6CC0" stroke-width="1.8"/>
<line x1="389.5" y1="11.8" x2="394.9" y2="17" stroke="#9A7A10" stroke-width="3.6" stroke-linecap="round"/>
<line x1="389.9" y1="12.2" x2="394.7" y2="16.8" stroke="#F0D060" stroke-width="2" stroke-linecap="round"/>
<circle cx="385.9" cy="8" r="5.2" fill="url(#lens)" stroke="#3C7CC8" stroke-width="1.4"/>
<path d="M382.9,8 h6" stroke="#2E6CC0" stroke-width="1.8"/>
<rect x="408.5" y="2.2" width="7.4" height="7.4" rx="0.8" fill="#4CA81C" stroke="#2C7A0C" stroke-width="0.6"/>
<path d="M410.0,5.800000000000001 h4.4 M410.0,7.6000000000000005 h4.4" stroke="#EAF4FF" stroke-width="0.9"/>
<rect x="416.6" y="2.2" width="7.4" height="7.4" rx="0.8" fill="#2458D0" stroke="#123C9C" stroke-width="0.6"/>
<path d="M418.1,5.800000000000001 h4.4 M418.1,7.6000000000000005 h4.4" stroke="#EAF4FF" stroke-width="0.9"/>
<rect x="408.5" y="10.2" width="7.4" height="7.4" rx="0.8" fill="#2458D0" stroke="#123C9C" stroke-width="0.6"/>
<path d="M410.0,13.799999999999999 h4.4 M410.0,15.6 h4.4" stroke="#EAF4FF" stroke-width="0.9"/>
<rect x="416.6" y="10.2" width="7.4" height="7.4" rx="0.8" fill="#4CA81C" stroke="#2C7A0C" stroke-width="0.6"/>
<path d="M418.1,13.799999999999999 h4.4 M418.1,15.6 h4.4" stroke="#EAF4FF" stroke-width="0.9"/>
<rect x="433" y="0" width="1" height="20" fill="#A0A0A0" shape-rendering="crispEdges"/>
<rect x="434" y="0" width="1" height="20" fill="#FFFFFF" shape-rendering="crispEdges"/>
<rect x="438" y="0" width="26" height="21" fill="url(#dz)" shape-rendering="crispEdges"/>
<g shape-rendering="crispEdges" fill="#555555">
<rect x="446" y="4" width="1" height="14"/>
<rect x="444" y="15" width="15" height="1"/>
<rect x="445" y="5" width="3" height="1"/><rect x="444" y="6" width="1" height="1"/><rect x="448" y="6" width="1" height="1"/>
<rect x="457" y="14" width="1" height="3"/><rect x="456" y="13" width="1" height="1"/><rect x="456" y="17" width="1" height="1"/>
</g>
<polygon points="451,6.5 455.2,9.4 451,12.4" fill="#30C030" stroke="#108A10" stroke-width="0.8"/>
<rect x="466" y="0" width="1" height="20" fill="#A0A0A0" shape-rendering="crispEdges"/>
<rect x="467" y="0" width="1" height="20" fill="#FFFFFF" shape-rendering="crispEdges"/>
<rect x="467" y="0" width="24" height="21" fill="url(#dz)" shape-rendering="crispEdges"/>
<g shape-rendering="crispEdges" fill="#555555">
<rect x="474" y="4" width="1" height="14"/>
<rect x="472" y="15" width="15" height="1"/>
<rect x="473" y="5" width="3" height="1"/><rect x="472" y="6" width="1" height="1"/><rect x="476" y="6" width="1" height="1"/>
<rect x="485" y="14" width="1" height="3"/><rect x="484" y="13" width="1" height="1"/><rect x="484" y="17" width="1" height="1"/>
</g>
<path d="M480.4,4 V13.5" stroke="#1C5CB0" stroke-width="1.3"/>
<path d="M486.2,9.4 H482 M483.8,7.4 L481.6,9.4 L483.8,11.4" stroke="#D83010" stroke-width="1.2" fill="none"/>
<rect x="495" y="0" width="1" height="20" fill="#A0A0A0" shape-rendering="crispEdges"/>
<rect x="496" y="0" width="1" height="20" fill="#FFFFFF" shape-rendering="crispEdges"/>
<path d="M505.5,2.5 h7.5 l4,4 v9.5 h-11.5 z" fill="#FDFDFD" stroke="#7A7A7A" stroke-width="1"/>
<path d="M513.0,2.5 v4 h4" fill="#E0E0E0" stroke="#7A7A7A" stroke-width="0.8"/>
<path d="M507.5,6.5 h4 M507.5,9.0 h7 M507.5,11.5 h7" stroke="#8A8A8A" stroke-width="1"/>
<path d="M513.0,7.7 h3.7 v3.9 h3.9 v3.7 h-3.9 v3.9 h-3.7 v-3.9 h-3.9 v-3.7 h3.9 z" fill="url(#grn)" stroke="#0A8A0A" stroke-width="0.9"/>
<polygon points="527,9 532,9 529.5,12" fill="#000"/>
<circle cx="550.7" cy="10.4" r="7.3" fill="#1C5CC8" stroke="#0C3C98" stroke-width="0.8"/>
<circle cx="550.7" cy="10.4" r="5" fill="#F4F8FF"/>
<path d="M550.7,6.8 V10.6 H553.4" stroke="#404040" stroke-width="1" fill="none"/>
<polygon points="566,9 571,9 568.5,12" fill="#000"/>
<rect x="582.5" y="3.5" width="15" height="13" fill="#FFFFFF" stroke="#2C64C4" stroke-width="1.2"/>
<rect x="582.5" y="3.5" width="15" height="2.4" fill="#4C88E0"/>
<path d="M583,10.4 H597" stroke="#2C64C4" stroke-width="0.8"/>
<path d="M584.5,9 l3,-1 l2.5,0.6 l3,-1.6 l2.5,0.4" stroke="#C03010" stroke-width="1.1" fill="none"/>
<path d="M584.5,14.6 l3,-1.4 l2.5,1 l3,-2 l2.5,1.6" stroke="#1C9A1C" stroke-width="1.1" fill="none"/>
<polygon points="605,9 610,9 607.5,12" fill="#000"/>
<rect x="616" y="0" width="1" height="20" fill="#A0A0A0" shape-rendering="crispEdges"/>
<rect x="617" y="0" width="1" height="20" fill="#FFFFFF" shape-rendering="crispEdges"/>
<g shape-rendering="crispEdges" fill="#A8A8A8">
<rect x="619.5" y="1" width="4" height="1"/>
<rect x="619.5" y="3" width="4" height="1"/>
<rect x="619.5" y="5" width="4" height="1"/>
<rect x="619.5" y="7" width="4" height="1"/>
<rect x="619.5" y="9" width="4" height="1"/>
<rect x="619.5" y="11" width="4" height="1"/>
<rect x="619.5" y="13" width="4" height="1"/>
<rect x="619.5" y="15" width="4" height="1"/>
<rect x="619.5" y="17" width="4" height="1"/>
<rect x="619.5" y="19" width="4" height="1"/>
</g>
<rect x="626" y="0" width="1" height="20" fill="#A0A0A0" shape-rendering="crispEdges"/>
<rect x="627" y="0" width="1" height="20" fill="#FFFFFF" shape-rendering="crispEdges"/>
<rect x="627" y="0" width="24" height="21" fill="url(#dz)" shape-rendering="crispEdges"/>
<path d="M634,2.8 V15.6 L637,12.8 L639.4,17.4 L641.2,16.5 L638.9,12 L642.8,11.8 Z" fill="#303030"/>
<path d="M666.6,2.8 V17.2 M659.4,10 H673.8" stroke="#505050" stroke-width="1.1"/>
<rect x="683" y="0" width="1" height="20" fill="#A0A0A0" shape-rendering="crispEdges"/>
<rect x="684" y="0" width="1" height="20" fill="#FFFFFF" shape-rendering="crispEdges"/>
<path d="M700.5,4 V16.8" stroke="#505050" stroke-width="1.2"/>
<path d="M723,10.4 H735" stroke="#505050" stroke-width="1.2"/>
<path d="M750.5,16.8 L763.3,4.6" stroke="#505050" stroke-width="1.2"/>
<path d="M777,13.5 L790,5 M779.5,17 L792,8.8 M781,8 l-1.5,8 M784,6 l-1.5,8 M787,4.5 l-1.5,8 M790,3 l-1.5,8" stroke="#505050" stroke-width="0.9" fill="none"/>
<text x="788" y="18.6" font-size="6" font-weight="bold" fill="#404040">E</text>
<path d="M806,3.2 H819" stroke="#505050" stroke-width="1" stroke-dasharray="1,1"/>
<path d="M806,6.6 H819" stroke="#505050" stroke-width="1" stroke-dasharray="1,1"/>
<path d="M806,10.2 H819" stroke="#505050" stroke-width="1" stroke-dasharray="1,1"/>
<path d="M806,14 H819" stroke="#505050" stroke-width="1" stroke-dasharray="1,1"/>
<text x="816.2" y="18.8" font-size="6" font-weight="bold" fill="#404040">F</text>
<text x="835.8" y="14.7" font-size="12" font-weight="bold" fill="#5A5A5A">A</text>
<rect x="863" y="4" width="11.5" height="12.6" fill="none" stroke="#505050" stroke-width="1" stroke-dasharray="1,1"/>
<text x="864.6" y="14.8" font-size="12" font-weight="bold" fill="#5A5A5A" textLength="8.4" lengthAdjust="spacingAndGlyphs">T</text>
<path d="M893.2,4.6 l2.6,2.6 l-2.6,2.6 l-2.6,-2.6 z M900.8,11.6 l2.6,2.6 l-2.6,2.6 l-2.6,-2.6 z" fill="#303030"/>
<path d="M892,11 l2,2.4 l3.6,-4.6" stroke="#303030" stroke-width="1.5" fill="none"/>
<polygon points="911,9 916,9 913.5,12" fill="#000"/>
<rect x="922" y="0" width="1" height="20" fill="#A0A0A0" shape-rendering="crispEdges"/>
<rect x="923" y="0" width="1" height="20" fill="#FFFFFF" shape-rendering="crispEdges"/>
<g shape-rendering="crispEdges" fill="#A8A8A8">
<rect x="925" y="1" width="4" height="1"/>
<rect x="925" y="3" width="4" height="1"/>
<rect x="925" y="5" width="4" height="1"/>
<rect x="925" y="7" width="4" height="1"/>
<rect x="925" y="9" width="4" height="1"/>
<rect x="925" y="11" width="4" height="1"/>
<rect x="925" y="13" width="4" height="1"/>
<rect x="925" y="15" width="4" height="1"/>
<rect x="925" y="17" width="4" height="1"/>
<rect x="925" y="19" width="4" height="1"/>
</g>
<rect x="1073" y="0" width="25" height="21" fill="url(#dz)" shape-rendering="crispEdges"/>
<rect x="1072" y="0" width="1" height="20" fill="#A0A0A0" shape-rendering="crispEdges"/>
<rect x="1073" y="0" width="1" height="20" fill="#FFFFFF" shape-rendering="crispEdges"/>
<text x="937.5" y="14.2" font-size="10.4" fill="#4A4A4A" textLength="12.5" lengthAdjust="spacingAndGlyphs">M1</text>
<text x="965.4" y="14.2" font-size="10.4" fill="#4A4A4A" textLength="12.6" lengthAdjust="spacingAndGlyphs">M5</text>
<text x="991.6" y="14.2" font-size="10.4" fill="#4A4A4A" textLength="17.4" lengthAdjust="spacingAndGlyphs">M15</text>
<text x="1019.5" y="14.2" font-size="10.4" fill="#4A4A4A" textLength="17.5" lengthAdjust="spacingAndGlyphs">M30</text>
<text x="1050.6" y="14.2" font-size="10.4" fill="#4A4A4A" textLength="11.4" lengthAdjust="spacingAndGlyphs">H1</text>
<text x="1077.5" y="14.2" font-size="10.4" fill="#4A4A4A" textLength="12.4" lengthAdjust="spacingAndGlyphs">H4</text>
<text x="1106.7" y="14.2" font-size="10.4" fill="#4A4A4A" textLength="11.2" lengthAdjust="spacingAndGlyphs">D1</text>
<text x="1134.4" y="14.2" font-size="10.4" fill="#4A4A4A" textLength="13.2" lengthAdjust="spacingAndGlyphs">W1</text>
<text x="1160.8" y="14.2" font-size="10.4" fill="#4A4A4A" textLength="14.2" lengthAdjust="spacingAndGlyphs">MN</text>
<rect x="1183" y="0" width="1" height="20" fill="#A0A0A0" shape-rendering="crispEdges"/>
<rect x="1184" y="0" width="1" height="20" fill="#FFFFFF" shape-rendering="crispEdges"/>
<line x1="1650.4" y1="10.8" x2="1646.2" y2="14.8" stroke="#2C5CC0" stroke-width="2.6" stroke-linecap="round"/>
<circle cx="1653.3" cy="7.6" r="4" fill="#F4F8FF" stroke="#2C5CC0" stroke-width="1.4"/>
<path d="M1673.4,17.2 l0.4,-2.2 a5.6,4.4 0 1 1 2.6,0.9 z" fill="#E6E6F2" stroke="#A8A8A8" stroke-width="1"/>
<circle cx="1684.4" cy="7.2" r="8.2" fill="url(#redg)"/>
<text x="1684" y="11.8" font-size="11.6" fill="#FFFFFF" text-anchor="middle" font-family="DejaVu Sans,sans-serif">1</text>
</svg>
</div>
<svg width="230" height="80" viewBox="0 26 230 80" style="position:absolute;left:0;top:26px" font-family='"Liberation Sans","Noto Sans CJK SC",sans-serif'>
<defs><linearGradient id="pb1" x1="0" y1="0" x2="0" y2="1"><stop offset="0" stop-color="#5656FA"/><stop offset="1" stop-color="#3232DA"/></linearGradient><linearGradient id="pb2" x1="0" y1="0" x2="0" y2="1"><stop offset="0" stop-color="#3434DC"/><stop offset="0.55" stop-color="#1818C4"/><stop offset="1" stop-color="#0000A6"/></linearGradient><linearGradient id="pg" x1="0" y1="0" x2="0" y2="1"><stop offset="0" stop-color="#F6F6F6"/><stop offset="0.5" stop-color="#E2E2E2"/><stop offset="0.5" stop-color="#D4D4D4"/><stop offset="1" stop-color="#CFCFCF"/></linearGradient></defs>
<polygon points="0,34.2 0,37.6 3,37.6" fill="#000"/>
<text x="8.6" y="38" font-size="10.5" fill="#000" textLength="199" lengthAdjust="spacingAndGlyphs" xml:space="preserve">GBPJPY-,H4  150.542 150.569 150.408 150.413</text>
<rect x="0" y="44" width="217" height="61" fill="#FFFFFF" shape-rendering="crispEdges"/>
<g shape-rendering="crispEdges">
<rect x="0" y="46" width="48" height="24" fill="url(#pb1)"/>
<rect x="0" y="46" width="48" height="1" fill="#2020C8"/>
<rect x="47" y="46" width="1" height="25" fill="#2020C8"/>
<rect x="163" y="46" width="52" height="24" fill="url(#pb1)"/>
<rect x="163" y="46" width="52" height="1" fill="#2020C8"/>
<rect x="163" y="46" width="1" height="25" fill="#2020C8"/>
<rect x="0" y="70" width="105" height="33" fill="url(#pb2)"/>
<rect x="107" y="70" width="108" height="33" fill="url(#pb2)"/>
<rect x="0" y="70" width="44" height="1" fill="#7474F4"/>
<rect x="167" y="70" width="44" height="1" fill="#7474F4"/>
<rect x="104" y="71" width="1" height="32" fill="#0808A8"/>
<rect x="214" y="47" width="1" height="56" fill="#0808A8"/>
<rect x="50" y="46" width="111" height="22" fill="#FFFFFF"/>
<rect x="50.5" y="46.5" width="110" height="21" fill="none" stroke="#ABABAB" stroke-width="1"/>
<rect x="52" y="48" width="18" height="18" fill="url(#pg)"/>
<rect x="70" y="47" width="1" height="20" fill="#ABABAB"/>
<rect x="141" y="48" width="18" height="18" fill="url(#pg)"/>
<rect x="140" y="47" width="1" height="20" fill="#ABABAB"/>
</g>
<polygon points="58,55.4 63,55.4 60.5,58.2" fill="#4C5CC0"/>
<polygon points="147.2,58 152.2,58 149.7,55.2" fill="#4C5CC0"/>
<text x="135.6" y="61.4" font-size="12.2" fill="#000" text-anchor="end">1.00</text>
<text x="8.6" y="62" font-size="12.2" fill="#FFFFFF" textLength="25.4" lengthAdjust="spacingAndGlyphs">SELL</text>
<text x="176.8" y="62" font-size="12.2" fill="#FFFFFF" textLength="23" lengthAdjust="spacingAndGlyphs">BUY</text>
<text x="19.7" y="98" font-size="12.2" font-weight="bold" fill="#FFFFFF" textLength="20.3" lengthAdjust="spacingAndGlyphs">150</text>
<text x="42.6" y="98" font-size="33.4" fill="#FFFFFF" textLength="35.6" lengthAdjust="spacingAndGlyphs">41</text>
<text x="83.6" y="82" font-size="11.6" font-weight="bold" fill="#FFFFFF">3</text>
<text x="129.6" y="98" font-size="12.2" font-weight="bold" fill="#FFFFFF" textLength="20.3" lengthAdjust="spacingAndGlyphs">150</text>
<text x="155.6" y="98" font-size="33.4" fill="#FFFFFF" textLength="34.6" lengthAdjust="spacingAndGlyphs">58</text>
<text x="194" y="82" font-size="11.6" font-weight="bold" fill="#FFFFFF">4</text>
</svg>
</body></html>
